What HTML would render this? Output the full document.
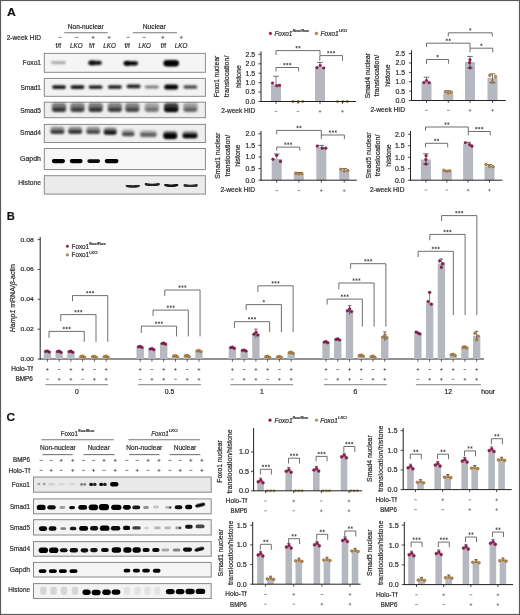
<!DOCTYPE html>
<html><head><meta charset="utf-8"><title>Figure</title>
<style>html,body{margin:0;padding:0;background:#fff;width:520px;height:615px;overflow:hidden}
svg{display:block;font-family:"Liberation Sans",sans-serif;opacity:0.995;filter:blur(0.3px)}svg text{stroke:#2e2e2e;stroke-width:0.22px}</style></head>
<body><svg width="520" height="615" viewBox="0 0 520 615" font-family='"Liberation Sans", sans-serif' fill="#2e2e2e"><defs><filter id="b1" x="-50%" y="-80%" width="200%" height="260%"><feGaussianBlur stdDeviation="0.85"/></filter><filter id="b2" x="-50%" y="-80%" width="200%" height="260%"><feGaussianBlur stdDeviation="1.4"/></filter><filter id="b06" x="-50%" y="-80%" width="200%" height="260%"><feGaussianBlur stdDeviation="0.6"/></filter><filter id="b15" x="-50%" y="-80%" width="200%" height="260%"><feGaussianBlur stdDeviation="1.1"/></filter></defs><rect x="0.5" y="0.5" width="519" height="614" fill="#fff" stroke="#5a5a5a" stroke-width="1.2"/>
<text x="7" y="16.4" font-size="11.2" font-weight="bold" fill="#111" textLength="8.8" lengthAdjust="spacingAndGlyphs">A</text>
<text x="6.8" y="219.8" font-size="11.2" font-weight="bold" fill="#111">B</text>
<text x="6.5" y="420.5" font-size="11.2" font-weight="bold" fill="#111" textLength="8.6" lengthAdjust="spacingAndGlyphs">C</text>
<text x="6.7" y="39.8" font-size="7.2" textLength="34.3" lengthAdjust="spacingAndGlyphs">2-week HID</text>
<text x="85.7" y="28.7" font-size="7" text-anchor="middle" textLength="36" lengthAdjust="spacingAndGlyphs">Non-nuclear</text>
<text x="154.3" y="28.7" font-size="7" text-anchor="middle" textLength="23" lengthAdjust="spacingAndGlyphs">Nuclear</text>
<line x1="64.2" y1="32.8" x2="107.8" y2="32.8" stroke="#777" stroke-width="1.1"/>
<line x1="132.7" y1="32.8" x2="176.9" y2="32.8" stroke="#777" stroke-width="1.1"/>
<line x1="58.4" y1="37.4" x2="61.6" y2="37.4" stroke="#555" stroke-width="0.7"/>
<line x1="75.2" y1="37.4" x2="78.4" y2="37.4" stroke="#555" stroke-width="0.7"/>
<line x1="91.5" y1="37.4" x2="94.7" y2="37.4" stroke="#555" stroke-width="0.7"/>
<line x1="93.1" y1="35.8" x2="93.1" y2="39" stroke="#555" stroke-width="0.7"/>
<line x1="107.5" y1="37.4" x2="110.7" y2="37.4" stroke="#555" stroke-width="0.7"/>
<line x1="109.1" y1="35.8" x2="109.1" y2="39" stroke="#555" stroke-width="0.7"/>
<line x1="126.6" y1="37.4" x2="129.8" y2="37.4" stroke="#555" stroke-width="0.7"/>
<line x1="142.6" y1="37.4" x2="145.8" y2="37.4" stroke="#555" stroke-width="0.7"/>
<line x1="161.2" y1="37.4" x2="164.4" y2="37.4" stroke="#555" stroke-width="0.7"/>
<line x1="162.8" y1="35.8" x2="162.8" y2="39" stroke="#555" stroke-width="0.7"/>
<line x1="179.7" y1="37.4" x2="182.9" y2="37.4" stroke="#555" stroke-width="0.7"/>
<line x1="181.3" y1="35.8" x2="181.3" y2="39" stroke="#555" stroke-width="0.7"/>
<text x="58.3" y="48.1" font-size="7" text-anchor="middle" textLength="5.4" lengthAdjust="spacingAndGlyphs">f/f</text>
<text x="76.3" y="48.1" font-size="7" text-anchor="middle" font-style="italic" textLength="12.6" lengthAdjust="spacingAndGlyphs">LKO</text>
<text x="91.8" y="48.1" font-size="7" text-anchor="middle" textLength="5.4" lengthAdjust="spacingAndGlyphs">f/f</text>
<text x="109.6" y="48.1" font-size="7" text-anchor="middle" font-style="italic" textLength="12.6" lengthAdjust="spacingAndGlyphs">LKO</text>
<text x="127.2" y="48.1" font-size="7" text-anchor="middle" textLength="5.4" lengthAdjust="spacingAndGlyphs">f/f</text>
<text x="144.7" y="48.1" font-size="7" text-anchor="middle" font-style="italic" textLength="12.6" lengthAdjust="spacingAndGlyphs">LKO</text>
<text x="163.4" y="48.1" font-size="7" text-anchor="middle" textLength="5.4" lengthAdjust="spacingAndGlyphs">f/f</text>
<text x="181.1" y="48.1" font-size="7" text-anchor="middle" font-style="italic" textLength="12.6" lengthAdjust="spacingAndGlyphs">LKO</text>
<text x="41" y="65.1" font-size="7.6" text-anchor="end" textLength="18.4" lengthAdjust="spacingAndGlyphs">Foxo1</text>
<rect x="44.3" y="53.4" width="161.1" height="18.9" fill="#f5f5f5" stroke="#8a8a8a" stroke-width="1"/>
<rect x="51" y="61.3" width="15" height="2.8" rx="1.4" fill="#000" fill-opacity="0.33" filter="url(#b1)"/>
<rect x="88.35" y="60.8" width="13.5" height="4.2" rx="2.1" fill="#000" fill-opacity="0.92" filter="url(#b1)"/>
<rect x="89.1" y="60.6" width="6" height="4.6" rx="2.3" fill="#000" fill-opacity="0.5" filter="url(#b1)"/>
<rect x="123.55" y="61.2" width="14.5" height="4.2" rx="2.1" fill="#000" fill-opacity="1" filter="url(#b1)"/>
<rect x="124.55" y="60.9" width="5.5" height="4.8" rx="2.4" fill="#000" fill-opacity="0.6" filter="url(#b1)"/>
<rect x="163.45" y="60.3" width="15.5" height="6" rx="3" fill="#000" fill-opacity="1" filter="url(#b1)"/>
<rect x="164.7" y="60.7" width="13" height="5.2" rx="2.6" fill="#000" fill-opacity="0.6" filter="url(#b1)"/>
<text x="41" y="90.1" font-size="7.6" text-anchor="end" textLength="20.6" lengthAdjust="spacingAndGlyphs">Smad1</text>
<rect x="44.3" y="78.4" width="161.1" height="17.9" fill="#f3f3f3" stroke="#8a8a8a" stroke-width="1"/>
<rect x="52" y="85.3" width="14" height="3.6" rx="1.8" fill="#000" fill-opacity="0.9" filter="url(#b1)"/>
<rect x="70.5" y="85.3" width="14" height="3.6" rx="1.8" fill="#000" fill-opacity="0.92" filter="url(#b1)"/>
<rect x="88.6" y="85.4" width="14" height="3.4" rx="1.7" fill="#000" fill-opacity="0.95" filter="url(#b1)"/>
<rect x="107.9" y="85.3" width="14" height="3.4" rx="1.7" fill="#000" fill-opacity="0.9" filter="url(#b1)"/>
<rect x="126.6" y="84.6" width="14" height="3.6" rx="1.8" fill="#000" fill-opacity="0.88" filter="url(#b1)"/>
<rect x="144.8" y="85.5" width="14" height="3" rx="1.5" fill="#000" fill-opacity="0.5" filter="url(#b1)"/>
<rect x="164.2" y="84.4" width="14" height="5" rx="2.5" fill="#000" fill-opacity="1" filter="url(#b1)"/>
<rect x="183.4" y="85.2" width="14" height="3.6" rx="1.8" fill="#000" fill-opacity="0.7" filter="url(#b1)"/>
<text x="41" y="112.9" font-size="7.6" text-anchor="end" textLength="20.8" lengthAdjust="spacingAndGlyphs">Smad5</text>
<rect x="44.3" y="102.2" width="161.1" height="15.5" fill="#eeeeee" stroke="#8a8a8a" stroke-width="1"/>
<rect x="51.75" y="103.1" width="14.5" height="9" rx="3" fill="#000" fill-opacity="0.5" filter="url(#b15)"/>
<rect x="70.25" y="103.1" width="14.5" height="9" rx="3" fill="#000" fill-opacity="0.47" filter="url(#b15)"/>
<rect x="88.35" y="103.1" width="14.5" height="9" rx="3" fill="#000" fill-opacity="0.5" filter="url(#b15)"/>
<rect x="107.65" y="103.1" width="14.5" height="9" rx="3" fill="#000" fill-opacity="0.47" filter="url(#b15)"/>
<rect x="125.05" y="103.1" width="14.5" height="9" rx="3" fill="#000" fill-opacity="0.45" filter="url(#b15)"/>
<rect x="144.55" y="103.1" width="14.5" height="9" rx="3" fill="#000" fill-opacity="0.32" filter="url(#b15)"/>
<rect x="163.95" y="103.1" width="14.5" height="9" rx="3" fill="#000" fill-opacity="0.75" filter="url(#b15)"/>
<rect x="183.15" y="103.1" width="14.5" height="9" rx="3" fill="#000" fill-opacity="0.35" filter="url(#b15)"/>
<rect x="52.5" y="107.8" width="13" height="3.6" rx="1.8" fill="#000" fill-opacity="0.6" filter="url(#b1)"/>
<rect x="71" y="107.8" width="13" height="3.6" rx="1.8" fill="#000" fill-opacity="0.55" filter="url(#b1)"/>
<rect x="89.1" y="107.8" width="13" height="3.6" rx="1.8" fill="#000" fill-opacity="0.6" filter="url(#b1)"/>
<rect x="108.4" y="107.8" width="13" height="3.6" rx="1.8" fill="#000" fill-opacity="0.55" filter="url(#b1)"/>
<rect x="125.8" y="107.8" width="13" height="3.6" rx="1.8" fill="#000" fill-opacity="0.5" filter="url(#b1)"/>
<rect x="145.3" y="107.8" width="13" height="3.6" rx="1.8" fill="#000" fill-opacity="0.3" filter="url(#b1)"/>
<rect x="164.7" y="107.8" width="13" height="3.6" rx="1.8" fill="#000" fill-opacity="0.9" filter="url(#b1)"/>
<rect x="183.9" y="107.8" width="13" height="3.6" rx="1.8" fill="#000" fill-opacity="0.4" filter="url(#b1)"/>
<text x="41" y="135" font-size="7.6" text-anchor="end" textLength="21" lengthAdjust="spacingAndGlyphs">Smad4</text>
<rect x="44.3" y="124.4" width="161.1" height="18.1" fill="#efefef" stroke="#8a8a8a" stroke-width="1"/>
<rect x="50.4" y="126.7" width="14" height="7" rx="3" fill="#000" fill-opacity="0.42" filter="url(#b15)"/>
<rect x="68.2" y="126.7" width="14" height="7" rx="3" fill="#000" fill-opacity="0.42" filter="url(#b15)"/>
<rect x="86.2" y="126.7" width="14" height="7" rx="3" fill="#000" fill-opacity="0.38" filter="url(#b15)"/>
<rect x="103.7" y="127.5" width="13" height="7" rx="3" fill="#000" fill-opacity="0.45" filter="url(#b15)"/>
<rect x="121.95" y="129.5" width="12.5" height="7" rx="3" fill="#000" fill-opacity="0.3" filter="url(#b15)"/>
<rect x="139.9" y="130.5" width="17" height="7" rx="3" fill="#000" fill-opacity="0.3" filter="url(#b15)"/>
<rect x="163.2" y="131" width="14" height="7" rx="3" fill="#000" fill-opacity="0.5" filter="url(#b15)"/>
<rect x="182.5" y="131.3" width="15" height="7" rx="3" fill="#000" fill-opacity="0.45" filter="url(#b15)"/>
<rect x="50.65" y="130.4" width="13.5" height="3.2" rx="1.6" fill="#000" fill-opacity="0.72" filter="url(#b1)"/>
<rect x="68.45" y="130.2" width="13.5" height="3.2" rx="1.6" fill="#000" fill-opacity="0.72" filter="url(#b1)"/>
<rect x="86.45" y="130.4" width="13.5" height="3.2" rx="1.6" fill="#000" fill-opacity="0.62" filter="url(#b1)"/>
<rect x="103.95" y="130.6" width="12.5" height="4" rx="2" fill="#000" fill-opacity="0.85" filter="url(#b1)"/>
<rect x="122.2" y="132.6" width="12" height="3.2" rx="1.6" fill="#000" fill-opacity="0.62" filter="url(#b1)"/>
<rect x="140.4" y="133.3" width="16" height="3" rx="1.5" fill="#000" fill-opacity="0.5" filter="url(#b1)"/>
<rect x="163.45" y="133.2" width="13.5" height="5.8" rx="2.9" fill="#000" fill-opacity="1" filter="url(#b1)"/>
<rect x="182.75" y="133.8" width="14.5" height="4.2" rx="2.1" fill="#000" fill-opacity="0.95" filter="url(#b1)"/>
<text x="41" y="161.4" font-size="7.6" text-anchor="end" textLength="21" lengthAdjust="spacingAndGlyphs">Gapdh</text>
<rect x="44.3" y="148.5" width="161.1" height="21.1" fill="#f6f6f6" stroke="#8a8a8a" stroke-width="1"/>
<rect x="51.8" y="159" width="13.2" height="4.2" rx="2.1" fill="#000" fill-opacity="1" filter="url(#b06)"/>
<rect x="69.75" y="159" width="12.9" height="4.2" rx="2.1" fill="#000" fill-opacity="1" filter="url(#b06)"/>
<rect x="87.3" y="159.3" width="12.8" height="3.6" rx="1.8" fill="#000" fill-opacity="0.95" filter="url(#b06)"/>
<rect x="104.7" y="159" width="13.8" height="4.2" rx="2.1" fill="#000" fill-opacity="1" filter="url(#b06)"/>
<text x="41" y="185.1" font-size="7.6" text-anchor="end" textLength="22.8" lengthAdjust="spacingAndGlyphs">Histone</text>
<rect x="44.3" y="175.7" width="161.1" height="18.4" fill="#ebebeb" stroke="#8a8a8a" stroke-width="1"/>
<path d="M127,185.7 Q132.8,187.3 138.6,185.7" fill="none" stroke="#000" stroke-opacity="0.85" stroke-width="2.7" stroke-linecap="round" filter="url(#b06)"/>
<path d="M146,184.2 Q152.25,185.8 158.5,184.2" fill="none" stroke="#000" stroke-opacity="0.85" stroke-width="2.7" stroke-linecap="round" filter="url(#b06)"/>
<path d="M165.5,185 Q171.25,186.6 177,185" fill="none" stroke="#000" stroke-opacity="0.9" stroke-width="2.7" stroke-linecap="round" filter="url(#b06)"/>
<path d="M184.8,185.4 Q190.65,187 196.5,185.4" fill="none" stroke="#000" stroke-opacity="0.8" stroke-width="2.7" stroke-linecap="round" filter="url(#b06)"/>
<circle cx="270.4" cy="33.5" r="1.4" fill="#951a52" stroke="#5e0e34" stroke-width="0.3"/>
<text x="274.4" y="35.8" font-size="7.2" font-style="italic" textLength="18" lengthAdjust="spacingAndGlyphs">Foxo1</text>
<text x="292.6" y="32.4" font-size="4.2" font-style="italic" textLength="16.4" lengthAdjust="spacingAndGlyphs">flox/flox</text>
<circle cx="316.4" cy="33.5" r="1.4" fill="#c68a3a" stroke="#5e4014" stroke-width="0.3"/>
<text x="320.6" y="35.8" font-size="7.2" font-style="italic" textLength="18" lengthAdjust="spacingAndGlyphs">Foxo1</text>
<text x="338.7" y="32.4" font-size="4.2" font-style="italic" textLength="8.4" lengthAdjust="spacingAndGlyphs">LKO</text>
<rect x="271" y="84.53" width="10" height="16.97" fill="#b6b8c0"/>
<line x1="276" y1="84.53" x2="276" y2="76.24" stroke="#333" stroke-width="0.6"/>
<line x1="273.2" y1="76.24" x2="278.8" y2="76.24" stroke="#333" stroke-width="0.7"/>
<circle cx="272.5" cy="83.03" r="1.35" fill="#951a52" stroke="#5e0e34" stroke-width="0.4"/>
<circle cx="276.7" cy="85.73" r="1.35" fill="#951a52" stroke="#5e0e34" stroke-width="0.4"/>
<circle cx="279.5" cy="85.33" r="1.35" fill="#951a52" stroke="#5e0e34" stroke-width="0.4"/>
<circle cx="293" cy="101.5" r="1.2" fill="#d6ab62" stroke="#5e4014" stroke-width="0.4"/>
<circle cx="298.2" cy="101.5" r="1.2" fill="#d6ab62" stroke="#5e4014" stroke-width="0.4"/>
<circle cx="302.8" cy="101.5" r="1.2" fill="#d6ab62" stroke="#5e4014" stroke-width="0.4"/>
<rect x="315" y="67" width="10" height="34.5" fill="#b6b8c0"/>
<line x1="320" y1="67" x2="320" y2="62.48" stroke="#333" stroke-width="0.6"/>
<line x1="317.2" y1="62.48" x2="322.8" y2="62.48" stroke="#333" stroke-width="0.7"/>
<circle cx="317" cy="67.7" r="1.35" fill="#951a52" stroke="#5e0e34" stroke-width="0.4"/>
<circle cx="320.2" cy="65.5" r="1.35" fill="#951a52" stroke="#5e0e34" stroke-width="0.4"/>
<circle cx="323.7" cy="68" r="1.35" fill="#951a52" stroke="#5e0e34" stroke-width="0.4"/>
<circle cx="337.5" cy="101.5" r="1.2" fill="#d6ab62" stroke="#5e4014" stroke-width="0.4"/>
<circle cx="342.7" cy="101.5" r="1.2" fill="#d6ab62" stroke="#5e4014" stroke-width="0.4"/>
<circle cx="347.3" cy="101.5" r="1.2" fill="#d6ab62" stroke="#5e4014" stroke-width="0.4"/>
<line x1="261" y1="51.5" x2="261" y2="101.9" stroke="#222" stroke-width="1"/>
<line x1="260.5" y1="101.5" x2="356" y2="101.5" stroke="#222" stroke-width="1"/>
<line x1="258.4" y1="101.5" x2="261" y2="101.5" stroke="#222" stroke-width="0.8"/>
<text x="255.2" y="103.9" font-size="7.2" text-anchor="end" textLength="9.6" lengthAdjust="spacingAndGlyphs">0.0</text>
<line x1="258.4" y1="92.08" x2="261" y2="92.08" stroke="#222" stroke-width="0.8"/>
<text x="255.2" y="94.48" font-size="7.2" text-anchor="end" textLength="9.6" lengthAdjust="spacingAndGlyphs">0.5</text>
<line x1="258.4" y1="82.65" x2="261" y2="82.65" stroke="#222" stroke-width="0.8"/>
<text x="255.2" y="85.05" font-size="7.2" text-anchor="end" textLength="9.6" lengthAdjust="spacingAndGlyphs">1.0</text>
<line x1="258.4" y1="73.22" x2="261" y2="73.22" stroke="#222" stroke-width="0.8"/>
<text x="255.2" y="75.62" font-size="7.2" text-anchor="end" textLength="9.6" lengthAdjust="spacingAndGlyphs">1.5</text>
<line x1="258.4" y1="63.8" x2="261" y2="63.8" stroke="#222" stroke-width="0.8"/>
<text x="255.2" y="66.2" font-size="7.2" text-anchor="end" textLength="9.6" lengthAdjust="spacingAndGlyphs">2.0</text>
<line x1="258.4" y1="54.38" x2="261" y2="54.38" stroke="#222" stroke-width="0.8"/>
<text x="255.2" y="56.77" font-size="7.2" text-anchor="end" textLength="9.6" lengthAdjust="spacingAndGlyphs">2.5</text>
<line x1="276" y1="101.5" x2="276" y2="103.9" stroke="#222" stroke-width="0.8"/>
<line x1="298" y1="101.5" x2="298" y2="103.9" stroke="#222" stroke-width="0.8"/>
<line x1="320" y1="101.5" x2="320" y2="103.9" stroke="#222" stroke-width="0.8"/>
<line x1="342.5" y1="101.5" x2="342.5" y2="103.9" stroke="#222" stroke-width="0.8"/>
<text x="219.2" y="76.5" font-size="7.4" text-anchor="middle" textLength="41.5" lengthAdjust="spacingAndGlyphs" transform="rotate(-90 219.2 76.5)">Foxo1 nuclear</text>
<text x="229" y="76.5" font-size="7.4" text-anchor="middle" textLength="41.7" lengthAdjust="spacingAndGlyphs" transform="rotate(-90 229 76.5)">translocation/</text>
<text x="240.7" y="76.5" font-size="7.4" text-anchor="middle" textLength="22.8" lengthAdjust="spacingAndGlyphs" transform="rotate(-90 240.7 76.5)">histone</text>
<text x="255.2" y="113.1" font-size="7" text-anchor="end" textLength="34" lengthAdjust="spacingAndGlyphs">2-week HID</text>
<line x1="274.65" y1="111.4" x2="277.35" y2="111.4" stroke="#666" stroke-width="0.7"/>
<line x1="296.65" y1="111.4" x2="299.35" y2="111.4" stroke="#666" stroke-width="0.7"/>
<line x1="318.65" y1="111.4" x2="321.35" y2="111.4" stroke="#666" stroke-width="0.7"/>
<line x1="320" y1="110.05" x2="320" y2="112.75" stroke="#666" stroke-width="0.7"/>
<line x1="341.15" y1="111.4" x2="343.85" y2="111.4" stroke="#666" stroke-width="0.7"/>
<line x1="342.5" y1="110.05" x2="342.5" y2="112.75" stroke="#666" stroke-width="0.7"/>
<polyline points="276,55 276,50.6 320,50.6 320,55" fill="none" stroke="#555" stroke-width="0.85"/>
<line x1="296.55" y1="46" x2="296.55" y2="48.4" stroke="#333" stroke-width="0.6"/>
<line x1="295.51" y1="46.6" x2="297.59" y2="47.8" stroke="#333" stroke-width="0.6"/>
<line x1="295.51" y1="47.8" x2="297.59" y2="46.6" stroke="#333" stroke-width="0.6"/>
<line x1="299.45" y1="46" x2="299.45" y2="48.4" stroke="#333" stroke-width="0.6"/>
<line x1="298.41" y1="46.6" x2="300.49" y2="47.8" stroke="#333" stroke-width="0.6"/>
<line x1="298.41" y1="47.8" x2="300.49" y2="46.6" stroke="#333" stroke-width="0.6"/>
<polyline points="276,71.4 276,67.5 298.6,67.5 298.6,71.4" fill="none" stroke="#555" stroke-width="0.85"/>
<line x1="284.4" y1="62.9" x2="284.4" y2="65.3" stroke="#333" stroke-width="0.6"/>
<line x1="283.36" y1="63.5" x2="285.44" y2="64.7" stroke="#333" stroke-width="0.6"/>
<line x1="283.36" y1="64.7" x2="285.44" y2="63.5" stroke="#333" stroke-width="0.6"/>
<line x1="287.3" y1="62.9" x2="287.3" y2="65.3" stroke="#333" stroke-width="0.6"/>
<line x1="286.26" y1="63.5" x2="288.34" y2="64.7" stroke="#333" stroke-width="0.6"/>
<line x1="286.26" y1="64.7" x2="288.34" y2="63.5" stroke="#333" stroke-width="0.6"/>
<line x1="290.2" y1="62.9" x2="290.2" y2="65.3" stroke="#333" stroke-width="0.6"/>
<line x1="289.16" y1="63.5" x2="291.24" y2="64.7" stroke="#333" stroke-width="0.6"/>
<line x1="289.16" y1="64.7" x2="291.24" y2="63.5" stroke="#333" stroke-width="0.6"/>
<polyline points="319.8,60.8 319.8,55.6 342.5,55.6 342.5,60.8" fill="none" stroke="#555" stroke-width="0.85"/>
<line x1="328.25" y1="51" x2="328.25" y2="53.4" stroke="#333" stroke-width="0.6"/>
<line x1="327.21" y1="51.6" x2="329.29" y2="52.8" stroke="#333" stroke-width="0.6"/>
<line x1="327.21" y1="52.8" x2="329.29" y2="51.6" stroke="#333" stroke-width="0.6"/>
<line x1="331.15" y1="51" x2="331.15" y2="53.4" stroke="#333" stroke-width="0.6"/>
<line x1="330.11" y1="51.6" x2="332.19" y2="52.8" stroke="#333" stroke-width="0.6"/>
<line x1="330.11" y1="52.8" x2="332.19" y2="51.6" stroke="#333" stroke-width="0.6"/>
<line x1="334.05" y1="51" x2="334.05" y2="53.4" stroke="#333" stroke-width="0.6"/>
<line x1="333.01" y1="51.6" x2="335.09" y2="52.8" stroke="#333" stroke-width="0.6"/>
<line x1="333.01" y1="52.8" x2="335.09" y2="51.6" stroke="#333" stroke-width="0.6"/>
<rect x="421.5" y="82.3" width="10" height="18.2" fill="#b6b8c0"/>
<line x1="426.5" y1="82.3" x2="426.5" y2="77.24" stroke="#333" stroke-width="0.6"/>
<line x1="423.7" y1="77.24" x2="429.3" y2="77.24" stroke="#333" stroke-width="0.7"/>
<circle cx="423.9" cy="82.5" r="1.35" fill="#951a52" stroke="#5e0e34" stroke-width="0.4"/>
<circle cx="429.1" cy="82.7" r="1.35" fill="#951a52" stroke="#5e0e34" stroke-width="0.4"/>
<circle cx="426.5" cy="80.5" r="1.35" fill="#951a52" stroke="#5e0e34" stroke-width="0.4"/>
<rect x="443.3" y="93.37" width="10" height="7.13" fill="#b6b8c0"/>
<line x1="448.3" y1="93.37" x2="448.3" y2="90.74" stroke="#333" stroke-width="0.6"/>
<line x1="445.5" y1="90.74" x2="451.1" y2="90.74" stroke="#333" stroke-width="0.7"/>
<circle cx="445.3" cy="91.87" r="1.35" fill="#c68a3a" stroke="#5e4014" stroke-width="0.4"/>
<circle cx="448.3" cy="92.87" r="1.35" fill="#c68a3a" stroke="#5e4014" stroke-width="0.4"/>
<circle cx="451.3" cy="92.37" r="1.35" fill="#c68a3a" stroke="#5e4014" stroke-width="0.4"/>
<rect x="465" y="62.04" width="10" height="38.46" fill="#b6b8c0"/>
<line x1="470" y1="62.04" x2="470" y2="56.41" stroke="#333" stroke-width="0.6"/>
<line x1="467.2" y1="56.41" x2="472.8" y2="56.41" stroke="#333" stroke-width="0.7"/>
<line x1="470" y1="62.04" x2="470" y2="68.04" stroke="#333" stroke-width="0.6"/>
<line x1="467.2" y1="68.04" x2="472.8" y2="68.04" stroke="#333" stroke-width="0.7"/>
<circle cx="470" cy="59.84" r="1.35" fill="#951a52" stroke="#5e0e34" stroke-width="0.4"/>
<circle cx="469.6" cy="62.64" r="1.35" fill="#951a52" stroke="#5e0e34" stroke-width="0.4"/>
<circle cx="470" cy="67.84" r="1.35" fill="#951a52" stroke="#5e0e34" stroke-width="0.4"/>
<rect x="487.5" y="77.99" width="10" height="22.51" fill="#b6b8c0"/>
<line x1="492.5" y1="77.99" x2="492.5" y2="73.86" stroke="#333" stroke-width="0.6"/>
<line x1="489.7" y1="73.86" x2="495.3" y2="73.86" stroke="#333" stroke-width="0.7"/>
<line x1="492.5" y1="77.99" x2="492.5" y2="82.59" stroke="#333" stroke-width="0.6"/>
<line x1="489.7" y1="82.59" x2="495.3" y2="82.59" stroke="#333" stroke-width="0.7"/>
<circle cx="489.9" cy="75.39" r="1.35" fill="#c68a3a" stroke="#5e4014" stroke-width="0.4"/>
<circle cx="495.5" cy="76.59" r="1.35" fill="#c68a3a" stroke="#5e4014" stroke-width="0.4"/>
<circle cx="492.5" cy="82.39" r="1.35" fill="#c68a3a" stroke="#5e4014" stroke-width="0.4"/>
<line x1="411.5" y1="50.4" x2="411.5" y2="100.9" stroke="#222" stroke-width="1"/>
<line x1="411" y1="100.5" x2="505.8" y2="100.5" stroke="#222" stroke-width="1"/>
<line x1="408.9" y1="100.5" x2="411.5" y2="100.5" stroke="#222" stroke-width="0.8"/>
<text x="405" y="102.9" font-size="7.2" text-anchor="end" textLength="9.6" lengthAdjust="spacingAndGlyphs">0.0</text>
<line x1="408.9" y1="91.12" x2="411.5" y2="91.12" stroke="#222" stroke-width="0.8"/>
<text x="405" y="93.52" font-size="7.2" text-anchor="end" textLength="9.6" lengthAdjust="spacingAndGlyphs">0.5</text>
<line x1="408.9" y1="81.74" x2="411.5" y2="81.74" stroke="#222" stroke-width="0.8"/>
<text x="405" y="84.14" font-size="7.2" text-anchor="end" textLength="9.6" lengthAdjust="spacingAndGlyphs">1.0</text>
<line x1="408.9" y1="72.36" x2="411.5" y2="72.36" stroke="#222" stroke-width="0.8"/>
<text x="405" y="74.76" font-size="7.2" text-anchor="end" textLength="9.6" lengthAdjust="spacingAndGlyphs">1.5</text>
<line x1="408.9" y1="62.98" x2="411.5" y2="62.98" stroke="#222" stroke-width="0.8"/>
<text x="405" y="65.38" font-size="7.2" text-anchor="end" textLength="9.6" lengthAdjust="spacingAndGlyphs">2.0</text>
<line x1="408.9" y1="53.6" x2="411.5" y2="53.6" stroke="#222" stroke-width="0.8"/>
<text x="405" y="56" font-size="7.2" text-anchor="end" textLength="9.6" lengthAdjust="spacingAndGlyphs">2.5</text>
<line x1="426.5" y1="100.5" x2="426.5" y2="102.9" stroke="#222" stroke-width="0.8"/>
<line x1="448.3" y1="100.5" x2="448.3" y2="102.9" stroke="#222" stroke-width="0.8"/>
<line x1="470" y1="100.5" x2="470" y2="102.9" stroke="#222" stroke-width="0.8"/>
<line x1="492.5" y1="100.5" x2="492.5" y2="102.9" stroke="#222" stroke-width="0.8"/>
<text x="369.8" y="75.6" font-size="7.4" text-anchor="middle" textLength="45.3" lengthAdjust="spacingAndGlyphs" transform="rotate(-90 369.8 75.6)">Smad4 nuclear</text>
<text x="379.3" y="75.6" font-size="7.4" text-anchor="middle" textLength="41.7" lengthAdjust="spacingAndGlyphs" transform="rotate(-90 379.3 75.6)">translocation/</text>
<text x="390.1" y="75.6" font-size="7.4" text-anchor="middle" textLength="22.3" lengthAdjust="spacingAndGlyphs" transform="rotate(-90 390.1 75.6)">histone</text>
<text x="405" y="112.1" font-size="7" text-anchor="end" textLength="34.6" lengthAdjust="spacingAndGlyphs">2-week HID</text>
<line x1="425.15" y1="110.4" x2="427.85" y2="110.4" stroke="#666" stroke-width="0.7"/>
<line x1="446.95" y1="110.4" x2="449.65" y2="110.4" stroke="#666" stroke-width="0.7"/>
<line x1="468.65" y1="110.4" x2="471.35" y2="110.4" stroke="#666" stroke-width="0.7"/>
<line x1="470" y1="109.05" x2="470" y2="111.75" stroke="#666" stroke-width="0.7"/>
<line x1="491.15" y1="110.4" x2="493.85" y2="110.4" stroke="#666" stroke-width="0.7"/>
<line x1="492.5" y1="109.05" x2="492.5" y2="111.75" stroke="#666" stroke-width="0.7"/>
<polyline points="426.5,63.8 426.5,59.5 448.6,59.5 448.6,63.8" fill="none" stroke="#555" stroke-width="0.85"/>
<line x1="437.55" y1="54.9" x2="437.55" y2="57.3" stroke="#333" stroke-width="0.6"/>
<line x1="436.51" y1="55.5" x2="438.59" y2="56.7" stroke="#333" stroke-width="0.6"/>
<line x1="436.51" y1="56.7" x2="438.59" y2="55.5" stroke="#333" stroke-width="0.6"/>
<polyline points="426.5,47 426.5,43.2 470,43.2 470,48.2" fill="none" stroke="#555" stroke-width="0.85"/>
<line x1="446.8" y1="38.6" x2="446.8" y2="41" stroke="#333" stroke-width="0.6"/>
<line x1="445.76" y1="39.2" x2="447.84" y2="40.4" stroke="#333" stroke-width="0.6"/>
<line x1="445.76" y1="40.4" x2="447.84" y2="39.2" stroke="#333" stroke-width="0.6"/>
<line x1="449.7" y1="38.6" x2="449.7" y2="41" stroke="#333" stroke-width="0.6"/>
<line x1="448.66" y1="39.2" x2="450.74" y2="40.4" stroke="#333" stroke-width="0.6"/>
<line x1="448.66" y1="40.4" x2="450.74" y2="39.2" stroke="#333" stroke-width="0.6"/>
<polyline points="448.3,36.4 448.3,32.8 492.2,32.8 492.2,36.4" fill="none" stroke="#555" stroke-width="0.85"/>
<line x1="470.25" y1="28.2" x2="470.25" y2="30.6" stroke="#333" stroke-width="0.6"/>
<line x1="469.21" y1="28.8" x2="471.29" y2="30" stroke="#333" stroke-width="0.6"/>
<line x1="469.21" y1="30" x2="471.29" y2="28.8" stroke="#333" stroke-width="0.6"/>
<polyline points="470,52.3 470,48.2 492.7,48.2 492.7,52.3" fill="none" stroke="#555" stroke-width="0.85"/>
<line x1="481.35" y1="43.6" x2="481.35" y2="46" stroke="#333" stroke-width="0.6"/>
<line x1="480.31" y1="44.2" x2="482.39" y2="45.4" stroke="#333" stroke-width="0.6"/>
<line x1="480.31" y1="45.4" x2="482.39" y2="44.2" stroke="#333" stroke-width="0.6"/>
<rect x="271.7" y="158.86" width="10" height="21.34" fill="#b6b8c0"/>
<line x1="276.7" y1="158.86" x2="276.7" y2="153.98" stroke="#333" stroke-width="0.6"/>
<line x1="273.9" y1="153.98" x2="279.5" y2="153.98" stroke="#333" stroke-width="0.7"/>
<circle cx="273" cy="159.26" r="1.35" fill="#951a52" stroke="#5e0e34" stroke-width="0.4"/>
<circle cx="280.5" cy="161.46" r="1.35" fill="#951a52" stroke="#5e0e34" stroke-width="0.4"/>
<circle cx="276.7" cy="155.46" r="1.35" fill="#951a52" stroke="#5e0e34" stroke-width="0.4"/>
<rect x="293.8" y="173.7" width="10" height="6.5" fill="#b6b8c0"/>
<line x1="298.8" y1="173.7" x2="298.8" y2="172.54" stroke="#333" stroke-width="0.6"/>
<line x1="296" y1="172.54" x2="301.6" y2="172.54" stroke="#333" stroke-width="0.7"/>
<circle cx="295.8" cy="173.2" r="1.35" fill="#c68a3a" stroke="#5e4014" stroke-width="0.4"/>
<circle cx="298.8" cy="173.7" r="1.35" fill="#c68a3a" stroke="#5e4014" stroke-width="0.4"/>
<circle cx="301.8" cy="173.4" r="1.35" fill="#c68a3a" stroke="#5e4014" stroke-width="0.4"/>
<rect x="316.3" y="147.02" width="10" height="33.18" fill="#b6b8c0"/>
<line x1="321.3" y1="147.02" x2="321.3" y2="145.4" stroke="#333" stroke-width="0.6"/>
<line x1="318.5" y1="145.4" x2="324.1" y2="145.4" stroke="#333" stroke-width="0.7"/>
<circle cx="317.3" cy="146.02" r="1.35" fill="#951a52" stroke="#5e0e34" stroke-width="0.4"/>
<circle cx="322.3" cy="148.22" r="1.35" fill="#951a52" stroke="#5e0e34" stroke-width="0.4"/>
<circle cx="325.8" cy="148.22" r="1.35" fill="#951a52" stroke="#5e0e34" stroke-width="0.4"/>
<rect x="339.2" y="170.92" width="10" height="9.28" fill="#b6b8c0"/>
<line x1="344.2" y1="170.92" x2="344.2" y2="168.6" stroke="#333" stroke-width="0.6"/>
<line x1="341.4" y1="168.6" x2="347" y2="168.6" stroke="#333" stroke-width="0.7"/>
<circle cx="340.7" cy="169.42" r="1.35" fill="#c68a3a" stroke="#5e4014" stroke-width="0.4"/>
<circle cx="344.2" cy="170.92" r="1.35" fill="#c68a3a" stroke="#5e4014" stroke-width="0.4"/>
<circle cx="347.7" cy="170.42" r="1.35" fill="#c68a3a" stroke="#5e4014" stroke-width="0.4"/>
<line x1="261" y1="131" x2="261" y2="180.6" stroke="#222" stroke-width="1"/>
<line x1="260.5" y1="180.2" x2="356.8" y2="180.2" stroke="#222" stroke-width="1"/>
<line x1="258.4" y1="180.2" x2="261" y2="180.2" stroke="#222" stroke-width="0.8"/>
<text x="255" y="182.6" font-size="7.2" text-anchor="end" textLength="9.6" lengthAdjust="spacingAndGlyphs">0.0</text>
<line x1="258.4" y1="168.6" x2="261" y2="168.6" stroke="#222" stroke-width="0.8"/>
<text x="255" y="171" font-size="7.2" text-anchor="end" textLength="9.6" lengthAdjust="spacingAndGlyphs">0.5</text>
<line x1="258.4" y1="157" x2="261" y2="157" stroke="#222" stroke-width="0.8"/>
<text x="255" y="159.4" font-size="7.2" text-anchor="end" textLength="9.6" lengthAdjust="spacingAndGlyphs">1.0</text>
<line x1="258.4" y1="145.4" x2="261" y2="145.4" stroke="#222" stroke-width="0.8"/>
<text x="255" y="147.8" font-size="7.2" text-anchor="end" textLength="9.6" lengthAdjust="spacingAndGlyphs">1.5</text>
<line x1="258.4" y1="133.8" x2="261" y2="133.8" stroke="#222" stroke-width="0.8"/>
<text x="255" y="136.2" font-size="7.2" text-anchor="end" textLength="9.6" lengthAdjust="spacingAndGlyphs">2.0</text>
<line x1="276.7" y1="180.2" x2="276.7" y2="182.6" stroke="#222" stroke-width="0.8"/>
<line x1="298.8" y1="180.2" x2="298.8" y2="182.6" stroke="#222" stroke-width="0.8"/>
<line x1="321.3" y1="180.2" x2="321.3" y2="182.6" stroke="#222" stroke-width="0.8"/>
<line x1="344.2" y1="180.2" x2="344.2" y2="182.6" stroke="#222" stroke-width="0.8"/>
<text x="220.5" y="155.7" font-size="7.4" text-anchor="middle" textLength="46" lengthAdjust="spacingAndGlyphs" transform="rotate(-90 220.5 155.7)">Smad1 nuclear</text>
<text x="229.8" y="155.7" font-size="7.4" text-anchor="middle" textLength="41.7" lengthAdjust="spacingAndGlyphs" transform="rotate(-90 229.8 155.7)">translocation/</text>
<text x="240.1" y="155.7" font-size="7.4" text-anchor="middle" textLength="22.3" lengthAdjust="spacingAndGlyphs" transform="rotate(-90 240.1 155.7)">histone</text>
<text x="255" y="192.3" font-size="7" text-anchor="end" textLength="34.6" lengthAdjust="spacingAndGlyphs">2-week HID</text>
<line x1="275.35" y1="190.6" x2="278.05" y2="190.6" stroke="#666" stroke-width="0.7"/>
<line x1="297.45" y1="190.6" x2="300.15" y2="190.6" stroke="#666" stroke-width="0.7"/>
<line x1="319.95" y1="190.6" x2="322.65" y2="190.6" stroke="#666" stroke-width="0.7"/>
<line x1="321.3" y1="189.25" x2="321.3" y2="191.95" stroke="#666" stroke-width="0.7"/>
<line x1="342.85" y1="190.6" x2="345.55" y2="190.6" stroke="#666" stroke-width="0.7"/>
<line x1="344.2" y1="189.25" x2="344.2" y2="191.95" stroke="#666" stroke-width="0.7"/>
<polyline points="276.7,134.4 276.7,130.4 321.3,130.4 321.3,135" fill="none" stroke="#555" stroke-width="0.85"/>
<line x1="297.55" y1="125.8" x2="297.55" y2="128.2" stroke="#333" stroke-width="0.6"/>
<line x1="296.51" y1="126.4" x2="298.59" y2="127.6" stroke="#333" stroke-width="0.6"/>
<line x1="296.51" y1="127.6" x2="298.59" y2="126.4" stroke="#333" stroke-width="0.6"/>
<line x1="300.45" y1="125.8" x2="300.45" y2="128.2" stroke="#333" stroke-width="0.6"/>
<line x1="299.41" y1="126.4" x2="301.49" y2="127.6" stroke="#333" stroke-width="0.6"/>
<line x1="299.41" y1="127.6" x2="301.49" y2="126.4" stroke="#333" stroke-width="0.6"/>
<polyline points="276.7,150.6 276.7,147.1 299.8,147.1 299.8,150.6" fill="none" stroke="#555" stroke-width="0.85"/>
<line x1="285.35" y1="142.5" x2="285.35" y2="144.9" stroke="#333" stroke-width="0.6"/>
<line x1="284.31" y1="143.1" x2="286.39" y2="144.3" stroke="#333" stroke-width="0.6"/>
<line x1="284.31" y1="144.3" x2="286.39" y2="143.1" stroke="#333" stroke-width="0.6"/>
<line x1="288.25" y1="142.5" x2="288.25" y2="144.9" stroke="#333" stroke-width="0.6"/>
<line x1="287.21" y1="143.1" x2="289.29" y2="144.3" stroke="#333" stroke-width="0.6"/>
<line x1="287.21" y1="144.3" x2="289.29" y2="143.1" stroke="#333" stroke-width="0.6"/>
<line x1="291.15" y1="142.5" x2="291.15" y2="144.9" stroke="#333" stroke-width="0.6"/>
<line x1="290.11" y1="143.1" x2="292.19" y2="144.3" stroke="#333" stroke-width="0.6"/>
<line x1="290.11" y1="144.3" x2="292.19" y2="143.1" stroke="#333" stroke-width="0.6"/>
<polyline points="321.3,139 321.3,135 344.4,135 344.4,139" fill="none" stroke="#555" stroke-width="0.85"/>
<line x1="329.95" y1="130.4" x2="329.95" y2="132.8" stroke="#333" stroke-width="0.6"/>
<line x1="328.91" y1="131" x2="330.99" y2="132.2" stroke="#333" stroke-width="0.6"/>
<line x1="328.91" y1="132.2" x2="330.99" y2="131" stroke="#333" stroke-width="0.6"/>
<line x1="332.85" y1="130.4" x2="332.85" y2="132.8" stroke="#333" stroke-width="0.6"/>
<line x1="331.81" y1="131" x2="333.89" y2="132.2" stroke="#333" stroke-width="0.6"/>
<line x1="331.81" y1="132.2" x2="333.89" y2="131" stroke="#333" stroke-width="0.6"/>
<line x1="335.75" y1="130.4" x2="335.75" y2="132.8" stroke="#333" stroke-width="0.6"/>
<line x1="334.71" y1="131" x2="336.79" y2="132.2" stroke="#333" stroke-width="0.6"/>
<line x1="334.71" y1="132.2" x2="336.79" y2="131" stroke="#333" stroke-width="0.6"/>
<rect x="420.9" y="159.54" width="10" height="20.66" fill="#b6b8c0"/>
<line x1="425.9" y1="159.54" x2="425.9" y2="153.81" stroke="#333" stroke-width="0.6"/>
<line x1="423.1" y1="153.81" x2="428.7" y2="153.81" stroke="#333" stroke-width="0.7"/>
<line x1="425.9" y1="159.54" x2="425.9" y2="164.14" stroke="#333" stroke-width="0.6"/>
<line x1="423.1" y1="164.14" x2="428.7" y2="164.14" stroke="#333" stroke-width="0.7"/>
<circle cx="425.9" cy="159.54" r="1.35" fill="#951a52" stroke="#5e0e34" stroke-width="0.4"/>
<circle cx="425.9" cy="164.04" r="1.35" fill="#951a52" stroke="#5e0e34" stroke-width="0.4"/>
<circle cx="426.1" cy="155.74" r="1.35" fill="#951a52" stroke="#5e0e34" stroke-width="0.4"/>
<rect x="441.8" y="171.25" width="10" height="8.95" fill="#b6b8c0"/>
<line x1="446.8" y1="171.25" x2="446.8" y2="170.56" stroke="#333" stroke-width="0.6"/>
<line x1="444" y1="170.56" x2="449.6" y2="170.56" stroke="#333" stroke-width="0.7"/>
<circle cx="443.8" cy="170.25" r="1.35" fill="#c68a3a" stroke="#5e4014" stroke-width="0.4"/>
<circle cx="446.8" cy="171.25" r="1.35" fill="#c68a3a" stroke="#5e4014" stroke-width="0.4"/>
<circle cx="449.8" cy="170.75" r="1.35" fill="#c68a3a" stroke="#5e4014" stroke-width="0.4"/>
<rect x="463.1" y="144.4" width="10" height="35.8" fill="#b6b8c0"/>
<line x1="468.1" y1="144.4" x2="468.1" y2="142.33" stroke="#333" stroke-width="0.6"/>
<line x1="465.3" y1="142.33" x2="470.9" y2="142.33" stroke="#333" stroke-width="0.7"/>
<circle cx="465.3" cy="142.8" r="1.35" fill="#951a52" stroke="#5e0e34" stroke-width="0.4"/>
<circle cx="469.6" cy="144.6" r="1.35" fill="#951a52" stroke="#5e0e34" stroke-width="0.4"/>
<circle cx="471.9" cy="146.2" r="1.35" fill="#951a52" stroke="#5e0e34" stroke-width="0.4"/>
<rect x="484.5" y="166.2" width="10" height="14" fill="#b6b8c0"/>
<line x1="489.5" y1="166.2" x2="489.5" y2="164.59" stroke="#333" stroke-width="0.6"/>
<line x1="486.7" y1="164.59" x2="492.3" y2="164.59" stroke="#333" stroke-width="0.7"/>
<circle cx="486" cy="164.4" r="1.35" fill="#c68a3a" stroke="#5e4014" stroke-width="0.4"/>
<circle cx="489.5" cy="166.2" r="1.35" fill="#c68a3a" stroke="#5e4014" stroke-width="0.4"/>
<circle cx="493" cy="166.7" r="1.35" fill="#c68a3a" stroke="#5e4014" stroke-width="0.4"/>
<line x1="410.5" y1="130.9" x2="410.5" y2="180.6" stroke="#222" stroke-width="1"/>
<line x1="410" y1="180.2" x2="502.4" y2="180.2" stroke="#222" stroke-width="1"/>
<line x1="407.9" y1="180.2" x2="410.5" y2="180.2" stroke="#222" stroke-width="0.8"/>
<text x="404.5" y="182.6" font-size="7.2" text-anchor="end" textLength="9.6" lengthAdjust="spacingAndGlyphs">0.0</text>
<line x1="407.9" y1="168.72" x2="410.5" y2="168.72" stroke="#222" stroke-width="0.8"/>
<text x="404.5" y="171.12" font-size="7.2" text-anchor="end" textLength="9.6" lengthAdjust="spacingAndGlyphs">0.5</text>
<line x1="407.9" y1="157.25" x2="410.5" y2="157.25" stroke="#222" stroke-width="0.8"/>
<text x="404.5" y="159.65" font-size="7.2" text-anchor="end" textLength="9.6" lengthAdjust="spacingAndGlyphs">1.0</text>
<line x1="407.9" y1="145.77" x2="410.5" y2="145.77" stroke="#222" stroke-width="0.8"/>
<text x="404.5" y="148.17" font-size="7.2" text-anchor="end" textLength="9.6" lengthAdjust="spacingAndGlyphs">1.5</text>
<line x1="407.9" y1="134.3" x2="410.5" y2="134.3" stroke="#222" stroke-width="0.8"/>
<text x="404.5" y="136.7" font-size="7.2" text-anchor="end" textLength="9.6" lengthAdjust="spacingAndGlyphs">2.0</text>
<line x1="425.9" y1="180.2" x2="425.9" y2="182.6" stroke="#222" stroke-width="0.8"/>
<line x1="446.8" y1="180.2" x2="446.8" y2="182.6" stroke="#222" stroke-width="0.8"/>
<line x1="468.1" y1="180.2" x2="468.1" y2="182.6" stroke="#222" stroke-width="0.8"/>
<line x1="489.5" y1="180.2" x2="489.5" y2="182.6" stroke="#222" stroke-width="0.8"/>
<text x="370.6" y="155.5" font-size="7.4" text-anchor="middle" textLength="46" lengthAdjust="spacingAndGlyphs" transform="rotate(-90 370.6 155.5)">Smad5 nuclear</text>
<text x="379.8" y="155.5" font-size="7.4" text-anchor="middle" textLength="41.7" lengthAdjust="spacingAndGlyphs" transform="rotate(-90 379.8 155.5)">translocation/</text>
<text x="390.6" y="155.5" font-size="7.4" text-anchor="middle" textLength="22.3" lengthAdjust="spacingAndGlyphs" transform="rotate(-90 390.6 155.5)">histone</text>
<text x="404.5" y="191.8" font-size="7" text-anchor="end" textLength="34.6" lengthAdjust="spacingAndGlyphs">2-week HID</text>
<line x1="424.55" y1="190.1" x2="427.25" y2="190.1" stroke="#666" stroke-width="0.7"/>
<line x1="445.45" y1="190.1" x2="448.15" y2="190.1" stroke="#666" stroke-width="0.7"/>
<line x1="466.75" y1="190.1" x2="469.45" y2="190.1" stroke="#666" stroke-width="0.7"/>
<line x1="468.1" y1="188.75" x2="468.1" y2="191.45" stroke="#666" stroke-width="0.7"/>
<line x1="488.15" y1="190.1" x2="490.85" y2="190.1" stroke="#666" stroke-width="0.7"/>
<line x1="489.5" y1="188.75" x2="489.5" y2="191.45" stroke="#666" stroke-width="0.7"/>
<polyline points="425.5,130.6 425.5,127 468.3,127 468.3,131.5" fill="none" stroke="#555" stroke-width="0.85"/>
<line x1="445.45" y1="122.4" x2="445.45" y2="124.8" stroke="#333" stroke-width="0.6"/>
<line x1="444.41" y1="123" x2="446.49" y2="124.2" stroke="#333" stroke-width="0.6"/>
<line x1="444.41" y1="124.2" x2="446.49" y2="123" stroke="#333" stroke-width="0.6"/>
<line x1="448.35" y1="122.4" x2="448.35" y2="124.8" stroke="#333" stroke-width="0.6"/>
<line x1="447.31" y1="123" x2="449.39" y2="124.2" stroke="#333" stroke-width="0.6"/>
<line x1="447.31" y1="124.2" x2="449.39" y2="123" stroke="#333" stroke-width="0.6"/>
<polyline points="425.5,147.3 425.5,143.3 447.7,143.3 447.7,147.3" fill="none" stroke="#555" stroke-width="0.85"/>
<line x1="435.15" y1="138.7" x2="435.15" y2="141.1" stroke="#333" stroke-width="0.6"/>
<line x1="434.11" y1="139.3" x2="436.19" y2="140.5" stroke="#333" stroke-width="0.6"/>
<line x1="434.11" y1="140.5" x2="436.19" y2="139.3" stroke="#333" stroke-width="0.6"/>
<line x1="438.05" y1="138.7" x2="438.05" y2="141.1" stroke="#333" stroke-width="0.6"/>
<line x1="437.01" y1="139.3" x2="439.09" y2="140.5" stroke="#333" stroke-width="0.6"/>
<line x1="437.01" y1="140.5" x2="439.09" y2="139.3" stroke="#333" stroke-width="0.6"/>
<polyline points="468.3,135.3 468.3,131.5 490.2,131.5 490.2,135.3" fill="none" stroke="#555" stroke-width="0.85"/>
<line x1="476.35" y1="126.9" x2="476.35" y2="129.3" stroke="#333" stroke-width="0.6"/>
<line x1="475.31" y1="127.5" x2="477.39" y2="128.7" stroke="#333" stroke-width="0.6"/>
<line x1="475.31" y1="128.7" x2="477.39" y2="127.5" stroke="#333" stroke-width="0.6"/>
<line x1="479.25" y1="126.9" x2="479.25" y2="129.3" stroke="#333" stroke-width="0.6"/>
<line x1="478.21" y1="127.5" x2="480.29" y2="128.7" stroke="#333" stroke-width="0.6"/>
<line x1="478.21" y1="128.7" x2="480.29" y2="127.5" stroke="#333" stroke-width="0.6"/>
<line x1="482.15" y1="126.9" x2="482.15" y2="129.3" stroke="#333" stroke-width="0.6"/>
<line x1="481.11" y1="127.5" x2="483.19" y2="128.7" stroke="#333" stroke-width="0.6"/>
<line x1="481.11" y1="128.7" x2="483.19" y2="127.5" stroke="#333" stroke-width="0.6"/>
<line x1="40.2" y1="237" x2="40.2" y2="359.4" stroke="#222" stroke-width="1"/>
<line x1="39.7" y1="359" x2="484" y2="359" stroke="#222" stroke-width="1"/>
<line x1="37.6" y1="359" x2="40.2" y2="359" stroke="#222" stroke-width="0.8"/>
<text x="33.8" y="361" font-size="6" text-anchor="end" textLength="13.2" lengthAdjust="spacingAndGlyphs">0.00</text>
<line x1="37.6" y1="329.15" x2="40.2" y2="329.15" stroke="#222" stroke-width="0.8"/>
<text x="33.8" y="331.15" font-size="6" text-anchor="end" textLength="13.2" lengthAdjust="spacingAndGlyphs">0.02</text>
<line x1="37.6" y1="299.3" x2="40.2" y2="299.3" stroke="#222" stroke-width="0.8"/>
<text x="33.8" y="301.3" font-size="6" text-anchor="end" textLength="13.2" lengthAdjust="spacingAndGlyphs">0.04</text>
<line x1="37.6" y1="269.45" x2="40.2" y2="269.45" stroke="#222" stroke-width="0.8"/>
<text x="33.8" y="271.45" font-size="6" text-anchor="end" textLength="13.2" lengthAdjust="spacingAndGlyphs">0.06</text>
<line x1="37.6" y1="239.6" x2="40.2" y2="239.6" stroke="#222" stroke-width="0.8"/>
<text x="33.8" y="241.6" font-size="6" text-anchor="end" textLength="13.2" lengthAdjust="spacingAndGlyphs">0.08</text>
<g transform="translate(14.9 298.2) rotate(-90) scale(0.873 1)"><text x="0" y="0" font-size="8" text-anchor="middle"><tspan font-style="italic">Hamp1</tspan> mRNA/<tspan font-style="italic">&#946;</tspan>-actin</text></g>
<circle cx="67.4" cy="246.3" r="1.3" fill="#951a52" stroke="#5e0e34" stroke-width="0.3"/>
<text x="71.6" y="248.7" font-size="6.8" textLength="17.5" lengthAdjust="spacingAndGlyphs">Foxo1</text>
<text x="89.2" y="245.2" font-size="4" textLength="16.4" lengthAdjust="spacingAndGlyphs">flox/flox</text>
<circle cx="67.4" cy="254.9" r="1.3" fill="#c68a3a" stroke="#5e4014" stroke-width="0.3"/>
<text x="71.6" y="257.4" font-size="6.8" textLength="17.5" lengthAdjust="spacingAndGlyphs">Foxo1</text>
<text x="89.2" y="253.8" font-size="4" textLength="8.4" lengthAdjust="spacingAndGlyphs">LKO</text>
<text x="32.8" y="370.9" font-size="6.5" text-anchor="end" textLength="21.6" lengthAdjust="spacingAndGlyphs">Holo-Tf</text>
<text x="32.8" y="381.4" font-size="6.5" text-anchor="end" textLength="17.4" lengthAdjust="spacingAndGlyphs">BMP6</text>
<rect x="43.7" y="351.2" width="7.4" height="7.8" fill="#b6b8c0"/>
<circle cx="45.7" cy="351.4" r="1.35" fill="#951a52" stroke="#5e0e34" stroke-width="0.4"/>
<circle cx="47.5" cy="351" r="1.35" fill="#951a52" stroke="#5e0e34" stroke-width="0.4"/>
<circle cx="49.2" cy="352.1" r="1.35" fill="#951a52" stroke="#5e0e34" stroke-width="0.4"/>
<line x1="47.4" y1="359" x2="47.4" y2="361.8" stroke="#222" stroke-width="0.7"/>
<rect x="55.45" y="351.4" width="7.4" height="7.6" fill="#b6b8c0"/>
<circle cx="57.45" cy="351.6" r="1.35" fill="#951a52" stroke="#5e0e34" stroke-width="0.4"/>
<circle cx="59.25" cy="351.2" r="1.35" fill="#951a52" stroke="#5e0e34" stroke-width="0.4"/>
<circle cx="60.95" cy="352.3" r="1.35" fill="#951a52" stroke="#5e0e34" stroke-width="0.4"/>
<line x1="59.15" y1="359" x2="59.15" y2="361.8" stroke="#222" stroke-width="0.7"/>
<rect x="67.2" y="351.4" width="7.4" height="7.6" fill="#b6b8c0"/>
<circle cx="69.2" cy="351.6" r="1.35" fill="#951a52" stroke="#5e0e34" stroke-width="0.4"/>
<circle cx="71" cy="351.2" r="1.35" fill="#951a52" stroke="#5e0e34" stroke-width="0.4"/>
<circle cx="72.7" cy="352.3" r="1.35" fill="#951a52" stroke="#5e0e34" stroke-width="0.4"/>
<line x1="70.9" y1="359" x2="70.9" y2="361.8" stroke="#222" stroke-width="0.7"/>
<rect x="78.95" y="356.4" width="7.4" height="2.6" fill="#b6b8c0"/>
<circle cx="80.95" cy="356.6" r="1.35" fill="#bf8a3e" stroke="#6a4a1a" stroke-width="0.4"/>
<circle cx="82.75" cy="356.2" r="1.35" fill="#bf8a3e" stroke="#6a4a1a" stroke-width="0.4"/>
<circle cx="84.45" cy="357.3" r="1.35" fill="#bf8a3e" stroke="#6a4a1a" stroke-width="0.4"/>
<line x1="82.65" y1="359" x2="82.65" y2="361.8" stroke="#222" stroke-width="0.7"/>
<rect x="90.7" y="356.5" width="7.4" height="2.5" fill="#b6b8c0"/>
<circle cx="92.7" cy="356.7" r="1.35" fill="#bf8a3e" stroke="#6a4a1a" stroke-width="0.4"/>
<circle cx="94.5" cy="356.3" r="1.35" fill="#bf8a3e" stroke="#6a4a1a" stroke-width="0.4"/>
<circle cx="96.2" cy="357.4" r="1.35" fill="#bf8a3e" stroke="#6a4a1a" stroke-width="0.4"/>
<line x1="94.4" y1="359" x2="94.4" y2="361.8" stroke="#222" stroke-width="0.7"/>
<rect x="102.45" y="356.4" width="7.4" height="2.6" fill="#b6b8c0"/>
<circle cx="104.45" cy="356.6" r="1.35" fill="#bf8a3e" stroke="#6a4a1a" stroke-width="0.4"/>
<circle cx="106.25" cy="356.2" r="1.35" fill="#bf8a3e" stroke="#6a4a1a" stroke-width="0.4"/>
<circle cx="107.95" cy="357.3" r="1.35" fill="#bf8a3e" stroke="#6a4a1a" stroke-width="0.4"/>
<line x1="106.15" y1="359" x2="106.15" y2="361.8" stroke="#222" stroke-width="0.7"/>
<line x1="46" y1="369.5" x2="48.8" y2="369.5" stroke="#555" stroke-width="0.7"/>
<line x1="47.4" y1="368.1" x2="47.4" y2="370.9" stroke="#555" stroke-width="0.7"/>
<line x1="57.75" y1="369.5" x2="60.55" y2="369.5" stroke="#555" stroke-width="0.7"/>
<line x1="69.5" y1="369.5" x2="72.3" y2="369.5" stroke="#555" stroke-width="0.7"/>
<line x1="70.9" y1="368.1" x2="70.9" y2="370.9" stroke="#555" stroke-width="0.7"/>
<line x1="81.25" y1="369.5" x2="84.05" y2="369.5" stroke="#555" stroke-width="0.7"/>
<line x1="82.65" y1="368.1" x2="82.65" y2="370.9" stroke="#555" stroke-width="0.7"/>
<line x1="93" y1="369.5" x2="95.8" y2="369.5" stroke="#555" stroke-width="0.7"/>
<line x1="104.75" y1="369.5" x2="107.55" y2="369.5" stroke="#555" stroke-width="0.7"/>
<line x1="106.15" y1="368.1" x2="106.15" y2="370.9" stroke="#555" stroke-width="0.7"/>
<line x1="46" y1="379.3" x2="48.8" y2="379.3" stroke="#555" stroke-width="0.7"/>
<line x1="57.75" y1="379.3" x2="60.55" y2="379.3" stroke="#555" stroke-width="0.7"/>
<line x1="59.15" y1="377.9" x2="59.15" y2="380.7" stroke="#555" stroke-width="0.7"/>
<line x1="69.5" y1="379.3" x2="72.3" y2="379.3" stroke="#555" stroke-width="0.7"/>
<line x1="70.9" y1="377.9" x2="70.9" y2="380.7" stroke="#555" stroke-width="0.7"/>
<line x1="81.25" y1="379.3" x2="84.05" y2="379.3" stroke="#555" stroke-width="0.7"/>
<line x1="93" y1="379.3" x2="95.8" y2="379.3" stroke="#555" stroke-width="0.7"/>
<line x1="94.4" y1="377.9" x2="94.4" y2="380.7" stroke="#555" stroke-width="0.7"/>
<line x1="104.75" y1="379.3" x2="107.55" y2="379.3" stroke="#555" stroke-width="0.7"/>
<line x1="106.15" y1="377.9" x2="106.15" y2="380.7" stroke="#555" stroke-width="0.7"/>
<line x1="45.4" y1="384.6" x2="108.15" y2="384.6" stroke="#999" stroke-width="1.2"/>
<text x="76.78" y="393.9" font-size="6.8" text-anchor="middle">0</text>
<polyline points="49,337.9 49,331.4 84.25,331.4 84.25,341.9" fill="none" stroke="#555" stroke-width="0.85"/>
<line x1="63.73" y1="326.8" x2="63.73" y2="329.2" stroke="#333" stroke-width="0.6"/>
<line x1="62.69" y1="327.4" x2="64.76" y2="328.6" stroke="#333" stroke-width="0.6"/>
<line x1="62.69" y1="328.6" x2="64.76" y2="327.4" stroke="#333" stroke-width="0.6"/>
<line x1="66.62" y1="326.8" x2="66.62" y2="329.2" stroke="#333" stroke-width="0.6"/>
<line x1="65.59" y1="327.4" x2="67.66" y2="328.6" stroke="#333" stroke-width="0.6"/>
<line x1="65.59" y1="328.6" x2="67.66" y2="327.4" stroke="#333" stroke-width="0.6"/>
<line x1="69.53" y1="326.8" x2="69.53" y2="329.2" stroke="#333" stroke-width="0.6"/>
<line x1="68.49" y1="327.4" x2="70.56" y2="328.6" stroke="#333" stroke-width="0.6"/>
<line x1="68.49" y1="328.6" x2="70.56" y2="327.4" stroke="#333" stroke-width="0.6"/>
<polyline points="60.75,321.1 60.75,314.6 96,314.6 96,341.9" fill="none" stroke="#555" stroke-width="0.85"/>
<line x1="75.47" y1="310" x2="75.47" y2="312.4" stroke="#333" stroke-width="0.6"/>
<line x1="74.44" y1="310.6" x2="76.51" y2="311.8" stroke="#333" stroke-width="0.6"/>
<line x1="74.44" y1="311.8" x2="76.51" y2="310.6" stroke="#333" stroke-width="0.6"/>
<line x1="78.38" y1="310" x2="78.38" y2="312.4" stroke="#333" stroke-width="0.6"/>
<line x1="77.34" y1="310.6" x2="79.41" y2="311.8" stroke="#333" stroke-width="0.6"/>
<line x1="77.34" y1="311.8" x2="79.41" y2="310.6" stroke="#333" stroke-width="0.6"/>
<line x1="81.28" y1="310" x2="81.28" y2="312.4" stroke="#333" stroke-width="0.6"/>
<line x1="80.24" y1="310.6" x2="82.31" y2="311.8" stroke="#333" stroke-width="0.6"/>
<line x1="80.24" y1="311.8" x2="82.31" y2="310.6" stroke="#333" stroke-width="0.6"/>
<polyline points="72.5,301.3 72.5,295.6 107.75,295.6 107.75,341.9" fill="none" stroke="#555" stroke-width="0.85"/>
<line x1="87.22" y1="291" x2="87.22" y2="293.4" stroke="#333" stroke-width="0.6"/>
<line x1="86.19" y1="291.6" x2="88.26" y2="292.8" stroke="#333" stroke-width="0.6"/>
<line x1="86.19" y1="292.8" x2="88.26" y2="291.6" stroke="#333" stroke-width="0.6"/>
<line x1="90.12" y1="291" x2="90.12" y2="293.4" stroke="#333" stroke-width="0.6"/>
<line x1="89.09" y1="291.6" x2="91.16" y2="292.8" stroke="#333" stroke-width="0.6"/>
<line x1="89.09" y1="292.8" x2="91.16" y2="291.6" stroke="#333" stroke-width="0.6"/>
<line x1="93.03" y1="291" x2="93.03" y2="293.4" stroke="#333" stroke-width="0.6"/>
<line x1="91.99" y1="291.6" x2="94.06" y2="292.8" stroke="#333" stroke-width="0.6"/>
<line x1="91.99" y1="292.8" x2="94.06" y2="291.6" stroke="#333" stroke-width="0.6"/>
<rect x="136.5" y="346.6" width="7.4" height="12.4" fill="#b6b8c0"/>
<circle cx="138.5" cy="346.8" r="1.35" fill="#951a52" stroke="#5e0e34" stroke-width="0.4"/>
<circle cx="140.3" cy="346.4" r="1.35" fill="#951a52" stroke="#5e0e34" stroke-width="0.4"/>
<circle cx="142" cy="347.5" r="1.35" fill="#951a52" stroke="#5e0e34" stroke-width="0.4"/>
<line x1="140.2" y1="359" x2="140.2" y2="361.8" stroke="#222" stroke-width="0.7"/>
<rect x="148.25" y="348.8" width="7.4" height="10.2" fill="#b6b8c0"/>
<circle cx="150.25" cy="349" r="1.35" fill="#951a52" stroke="#5e0e34" stroke-width="0.4"/>
<circle cx="152.05" cy="348.6" r="1.35" fill="#951a52" stroke="#5e0e34" stroke-width="0.4"/>
<circle cx="153.75" cy="349.7" r="1.35" fill="#951a52" stroke="#5e0e34" stroke-width="0.4"/>
<line x1="151.95" y1="359" x2="151.95" y2="361.8" stroke="#222" stroke-width="0.7"/>
<rect x="160" y="343.3" width="7.4" height="15.7" fill="#b6b8c0"/>
<circle cx="162" cy="343.5" r="1.35" fill="#951a52" stroke="#5e0e34" stroke-width="0.4"/>
<circle cx="163.8" cy="343.1" r="1.35" fill="#951a52" stroke="#5e0e34" stroke-width="0.4"/>
<circle cx="165.5" cy="344.2" r="1.35" fill="#951a52" stroke="#5e0e34" stroke-width="0.4"/>
<line x1="163.7" y1="359" x2="163.7" y2="361.8" stroke="#222" stroke-width="0.7"/>
<rect x="171.75" y="355.8" width="7.4" height="3.2" fill="#b6b8c0"/>
<circle cx="173.75" cy="356" r="1.35" fill="#bf8a3e" stroke="#6a4a1a" stroke-width="0.4"/>
<circle cx="175.55" cy="355.6" r="1.35" fill="#bf8a3e" stroke="#6a4a1a" stroke-width="0.4"/>
<circle cx="177.25" cy="356.7" r="1.35" fill="#bf8a3e" stroke="#6a4a1a" stroke-width="0.4"/>
<line x1="175.45" y1="359" x2="175.45" y2="361.8" stroke="#222" stroke-width="0.7"/>
<rect x="183.5" y="355.6" width="7.4" height="3.4" fill="#b6b8c0"/>
<circle cx="185.5" cy="355.8" r="1.35" fill="#bf8a3e" stroke="#6a4a1a" stroke-width="0.4"/>
<circle cx="187.3" cy="355.4" r="1.35" fill="#bf8a3e" stroke="#6a4a1a" stroke-width="0.4"/>
<circle cx="189" cy="356.5" r="1.35" fill="#bf8a3e" stroke="#6a4a1a" stroke-width="0.4"/>
<line x1="187.2" y1="359" x2="187.2" y2="361.8" stroke="#222" stroke-width="0.7"/>
<rect x="195.25" y="350.7" width="7.4" height="8.3" fill="#b6b8c0"/>
<circle cx="197.25" cy="350.9" r="1.35" fill="#bf8a3e" stroke="#6a4a1a" stroke-width="0.4"/>
<circle cx="199.05" cy="350.5" r="1.35" fill="#bf8a3e" stroke="#6a4a1a" stroke-width="0.4"/>
<circle cx="200.75" cy="351.6" r="1.35" fill="#bf8a3e" stroke="#6a4a1a" stroke-width="0.4"/>
<line x1="198.95" y1="359" x2="198.95" y2="361.8" stroke="#222" stroke-width="0.7"/>
<line x1="138.8" y1="369.5" x2="141.6" y2="369.5" stroke="#555" stroke-width="0.7"/>
<line x1="140.2" y1="368.1" x2="140.2" y2="370.9" stroke="#555" stroke-width="0.7"/>
<line x1="150.55" y1="369.5" x2="153.35" y2="369.5" stroke="#555" stroke-width="0.7"/>
<line x1="162.3" y1="369.5" x2="165.1" y2="369.5" stroke="#555" stroke-width="0.7"/>
<line x1="163.7" y1="368.1" x2="163.7" y2="370.9" stroke="#555" stroke-width="0.7"/>
<line x1="174.05" y1="369.5" x2="176.85" y2="369.5" stroke="#555" stroke-width="0.7"/>
<line x1="175.45" y1="368.1" x2="175.45" y2="370.9" stroke="#555" stroke-width="0.7"/>
<line x1="185.8" y1="369.5" x2="188.6" y2="369.5" stroke="#555" stroke-width="0.7"/>
<line x1="197.55" y1="369.5" x2="200.35" y2="369.5" stroke="#555" stroke-width="0.7"/>
<line x1="198.95" y1="368.1" x2="198.95" y2="370.9" stroke="#555" stroke-width="0.7"/>
<line x1="138.8" y1="379.3" x2="141.6" y2="379.3" stroke="#555" stroke-width="0.7"/>
<line x1="150.55" y1="379.3" x2="153.35" y2="379.3" stroke="#555" stroke-width="0.7"/>
<line x1="151.95" y1="377.9" x2="151.95" y2="380.7" stroke="#555" stroke-width="0.7"/>
<line x1="162.3" y1="379.3" x2="165.1" y2="379.3" stroke="#555" stroke-width="0.7"/>
<line x1="163.7" y1="377.9" x2="163.7" y2="380.7" stroke="#555" stroke-width="0.7"/>
<line x1="174.05" y1="379.3" x2="176.85" y2="379.3" stroke="#555" stroke-width="0.7"/>
<line x1="185.8" y1="379.3" x2="188.6" y2="379.3" stroke="#555" stroke-width="0.7"/>
<line x1="187.2" y1="377.9" x2="187.2" y2="380.7" stroke="#555" stroke-width="0.7"/>
<line x1="197.55" y1="379.3" x2="200.35" y2="379.3" stroke="#555" stroke-width="0.7"/>
<line x1="198.95" y1="377.9" x2="198.95" y2="380.7" stroke="#555" stroke-width="0.7"/>
<line x1="138.2" y1="384.6" x2="200.95" y2="384.6" stroke="#999" stroke-width="1.2"/>
<text x="169.57" y="393.9" font-size="6.8" text-anchor="middle">0.5</text>
<polyline points="141.3,333 141.3,326.1 176.55,326.1 176.55,336.4" fill="none" stroke="#555" stroke-width="0.85"/>
<line x1="156.02" y1="321.5" x2="156.02" y2="323.9" stroke="#333" stroke-width="0.6"/>
<line x1="154.99" y1="322.1" x2="157.06" y2="323.3" stroke="#333" stroke-width="0.6"/>
<line x1="154.99" y1="323.3" x2="157.06" y2="322.1" stroke="#333" stroke-width="0.6"/>
<line x1="158.92" y1="321.5" x2="158.92" y2="323.9" stroke="#333" stroke-width="0.6"/>
<line x1="157.89" y1="322.1" x2="159.96" y2="323.3" stroke="#333" stroke-width="0.6"/>
<line x1="157.89" y1="323.3" x2="159.96" y2="322.1" stroke="#333" stroke-width="0.6"/>
<line x1="161.82" y1="321.5" x2="161.82" y2="323.9" stroke="#333" stroke-width="0.6"/>
<line x1="160.79" y1="322.1" x2="162.86" y2="323.3" stroke="#333" stroke-width="0.6"/>
<line x1="160.79" y1="323.3" x2="162.86" y2="322.1" stroke="#333" stroke-width="0.6"/>
<polyline points="153.05,316 153.05,310.1 188.3,310.1 188.3,336.4" fill="none" stroke="#555" stroke-width="0.85"/>
<line x1="167.77" y1="305.5" x2="167.77" y2="307.9" stroke="#333" stroke-width="0.6"/>
<line x1="166.74" y1="306.1" x2="168.81" y2="307.3" stroke="#333" stroke-width="0.6"/>
<line x1="166.74" y1="307.3" x2="168.81" y2="306.1" stroke="#333" stroke-width="0.6"/>
<line x1="170.67" y1="305.5" x2="170.67" y2="307.9" stroke="#333" stroke-width="0.6"/>
<line x1="169.64" y1="306.1" x2="171.71" y2="307.3" stroke="#333" stroke-width="0.6"/>
<line x1="169.64" y1="307.3" x2="171.71" y2="306.1" stroke="#333" stroke-width="0.6"/>
<line x1="173.57" y1="305.5" x2="173.57" y2="307.9" stroke="#333" stroke-width="0.6"/>
<line x1="172.54" y1="306.1" x2="174.61" y2="307.3" stroke="#333" stroke-width="0.6"/>
<line x1="172.54" y1="307.3" x2="174.61" y2="306.1" stroke="#333" stroke-width="0.6"/>
<polyline points="164.8,296 164.8,290 200.05,290 200.05,336.4" fill="none" stroke="#555" stroke-width="0.85"/>
<line x1="179.52" y1="285.4" x2="179.52" y2="287.8" stroke="#333" stroke-width="0.6"/>
<line x1="178.49" y1="286" x2="180.56" y2="287.2" stroke="#333" stroke-width="0.6"/>
<line x1="178.49" y1="287.2" x2="180.56" y2="286" stroke="#333" stroke-width="0.6"/>
<line x1="182.42" y1="285.4" x2="182.42" y2="287.8" stroke="#333" stroke-width="0.6"/>
<line x1="181.39" y1="286" x2="183.46" y2="287.2" stroke="#333" stroke-width="0.6"/>
<line x1="181.39" y1="287.2" x2="183.46" y2="286" stroke="#333" stroke-width="0.6"/>
<line x1="185.32" y1="285.4" x2="185.32" y2="287.8" stroke="#333" stroke-width="0.6"/>
<line x1="184.29" y1="286" x2="186.36" y2="287.2" stroke="#333" stroke-width="0.6"/>
<line x1="184.29" y1="287.2" x2="186.36" y2="286" stroke="#333" stroke-width="0.6"/>
<rect x="228.7" y="347.4" width="7.4" height="11.6" fill="#b6b8c0"/>
<circle cx="230.7" cy="347.6" r="1.35" fill="#951a52" stroke="#5e0e34" stroke-width="0.4"/>
<circle cx="232.5" cy="347.2" r="1.35" fill="#951a52" stroke="#5e0e34" stroke-width="0.4"/>
<circle cx="234.2" cy="348.3" r="1.35" fill="#951a52" stroke="#5e0e34" stroke-width="0.4"/>
<line x1="232.4" y1="359" x2="232.4" y2="361.8" stroke="#222" stroke-width="0.7"/>
<rect x="240.45" y="350.2" width="7.4" height="8.8" fill="#b6b8c0"/>
<circle cx="242.45" cy="350.4" r="1.35" fill="#951a52" stroke="#5e0e34" stroke-width="0.4"/>
<circle cx="244.25" cy="350" r="1.35" fill="#951a52" stroke="#5e0e34" stroke-width="0.4"/>
<circle cx="245.95" cy="351.1" r="1.35" fill="#951a52" stroke="#5e0e34" stroke-width="0.4"/>
<line x1="244.15" y1="359" x2="244.15" y2="361.8" stroke="#222" stroke-width="0.7"/>
<rect x="252.2" y="333.6" width="7.4" height="25.4" fill="#b6b8c0"/>
<line x1="255.9" y1="333.6" x2="255.9" y2="329.1" stroke="#333" stroke-width="0.6"/>
<line x1="254.1" y1="329.1" x2="257.7" y2="329.1" stroke="#333" stroke-width="0.7"/>
<line x1="255.9" y1="333.6" x2="255.9" y2="338.1" stroke="#333" stroke-width="0.6"/>
<circle cx="253.9" cy="334.2" r="1.35" fill="#951a52" stroke="#5e0e34" stroke-width="0.4"/>
<circle cx="256.1" cy="332.3" r="1.35" fill="#951a52" stroke="#5e0e34" stroke-width="0.4"/>
<circle cx="257.9" cy="335.1" r="1.35" fill="#951a52" stroke="#5e0e34" stroke-width="0.4"/>
<line x1="255.9" y1="359" x2="255.9" y2="361.8" stroke="#222" stroke-width="0.7"/>
<rect x="263.95" y="356.5" width="7.4" height="2.5" fill="#b6b8c0"/>
<circle cx="265.95" cy="356.7" r="1.35" fill="#bf8a3e" stroke="#6a4a1a" stroke-width="0.4"/>
<circle cx="267.75" cy="356.3" r="1.35" fill="#bf8a3e" stroke="#6a4a1a" stroke-width="0.4"/>
<circle cx="269.45" cy="357.4" r="1.35" fill="#bf8a3e" stroke="#6a4a1a" stroke-width="0.4"/>
<line x1="267.65" y1="359" x2="267.65" y2="361.8" stroke="#222" stroke-width="0.7"/>
<rect x="275.7" y="356.6" width="7.4" height="2.4" fill="#b6b8c0"/>
<circle cx="277.7" cy="356.8" r="1.35" fill="#bf8a3e" stroke="#6a4a1a" stroke-width="0.4"/>
<circle cx="279.5" cy="356.4" r="1.35" fill="#bf8a3e" stroke="#6a4a1a" stroke-width="0.4"/>
<circle cx="281.2" cy="357.5" r="1.35" fill="#bf8a3e" stroke="#6a4a1a" stroke-width="0.4"/>
<line x1="279.4" y1="359" x2="279.4" y2="361.8" stroke="#222" stroke-width="0.7"/>
<rect x="287.45" y="352.4" width="7.4" height="6.6" fill="#b6b8c0"/>
<circle cx="289.45" cy="352.6" r="1.35" fill="#bf8a3e" stroke="#6a4a1a" stroke-width="0.4"/>
<circle cx="291.25" cy="352.2" r="1.35" fill="#bf8a3e" stroke="#6a4a1a" stroke-width="0.4"/>
<circle cx="292.95" cy="353.3" r="1.35" fill="#bf8a3e" stroke="#6a4a1a" stroke-width="0.4"/>
<line x1="291.15" y1="359" x2="291.15" y2="361.8" stroke="#222" stroke-width="0.7"/>
<line x1="231" y1="369.5" x2="233.8" y2="369.5" stroke="#555" stroke-width="0.7"/>
<line x1="232.4" y1="368.1" x2="232.4" y2="370.9" stroke="#555" stroke-width="0.7"/>
<line x1="242.75" y1="369.5" x2="245.55" y2="369.5" stroke="#555" stroke-width="0.7"/>
<line x1="254.5" y1="369.5" x2="257.3" y2="369.5" stroke="#555" stroke-width="0.7"/>
<line x1="255.9" y1="368.1" x2="255.9" y2="370.9" stroke="#555" stroke-width="0.7"/>
<line x1="266.25" y1="369.5" x2="269.05" y2="369.5" stroke="#555" stroke-width="0.7"/>
<line x1="267.65" y1="368.1" x2="267.65" y2="370.9" stroke="#555" stroke-width="0.7"/>
<line x1="278" y1="369.5" x2="280.8" y2="369.5" stroke="#555" stroke-width="0.7"/>
<line x1="289.75" y1="369.5" x2="292.55" y2="369.5" stroke="#555" stroke-width="0.7"/>
<line x1="291.15" y1="368.1" x2="291.15" y2="370.9" stroke="#555" stroke-width="0.7"/>
<line x1="231" y1="379.3" x2="233.8" y2="379.3" stroke="#555" stroke-width="0.7"/>
<line x1="242.75" y1="379.3" x2="245.55" y2="379.3" stroke="#555" stroke-width="0.7"/>
<line x1="244.15" y1="377.9" x2="244.15" y2="380.7" stroke="#555" stroke-width="0.7"/>
<line x1="254.5" y1="379.3" x2="257.3" y2="379.3" stroke="#555" stroke-width="0.7"/>
<line x1="255.9" y1="377.9" x2="255.9" y2="380.7" stroke="#555" stroke-width="0.7"/>
<line x1="266.25" y1="379.3" x2="269.05" y2="379.3" stroke="#555" stroke-width="0.7"/>
<line x1="278" y1="379.3" x2="280.8" y2="379.3" stroke="#555" stroke-width="0.7"/>
<line x1="279.4" y1="377.9" x2="279.4" y2="380.7" stroke="#555" stroke-width="0.7"/>
<line x1="289.75" y1="379.3" x2="292.55" y2="379.3" stroke="#555" stroke-width="0.7"/>
<line x1="291.15" y1="377.9" x2="291.15" y2="380.7" stroke="#555" stroke-width="0.7"/>
<line x1="230.4" y1="384.6" x2="293.15" y2="384.6" stroke="#999" stroke-width="1.2"/>
<text x="261.77" y="393.9" font-size="6.8" text-anchor="middle">1</text>
<polyline points="234.4,328 234.4,321.7 269.65,321.7 269.65,332.2" fill="none" stroke="#555" stroke-width="0.85"/>
<line x1="249.12" y1="317.1" x2="249.12" y2="319.5" stroke="#333" stroke-width="0.6"/>
<line x1="248.09" y1="317.7" x2="250.16" y2="318.9" stroke="#333" stroke-width="0.6"/>
<line x1="248.09" y1="318.9" x2="250.16" y2="317.7" stroke="#333" stroke-width="0.6"/>
<line x1="252.02" y1="317.1" x2="252.02" y2="319.5" stroke="#333" stroke-width="0.6"/>
<line x1="250.99" y1="317.7" x2="253.06" y2="318.9" stroke="#333" stroke-width="0.6"/>
<line x1="250.99" y1="318.9" x2="253.06" y2="317.7" stroke="#333" stroke-width="0.6"/>
<line x1="254.92" y1="317.1" x2="254.92" y2="319.5" stroke="#333" stroke-width="0.6"/>
<line x1="253.89" y1="317.7" x2="255.96" y2="318.9" stroke="#333" stroke-width="0.6"/>
<line x1="253.89" y1="318.9" x2="255.96" y2="317.7" stroke="#333" stroke-width="0.6"/>
<polyline points="246.15,310 246.15,304.6 281.4,304.6 281.4,332.2" fill="none" stroke="#555" stroke-width="0.85"/>
<line x1="263.77" y1="300" x2="263.77" y2="302.4" stroke="#333" stroke-width="0.6"/>
<line x1="262.74" y1="300.6" x2="264.81" y2="301.8" stroke="#333" stroke-width="0.6"/>
<line x1="262.74" y1="301.8" x2="264.81" y2="300.6" stroke="#333" stroke-width="0.6"/>
<polyline points="257.9,292 257.9,285.8 293.15,285.8 293.15,332.2" fill="none" stroke="#555" stroke-width="0.85"/>
<line x1="272.62" y1="281.2" x2="272.62" y2="283.6" stroke="#333" stroke-width="0.6"/>
<line x1="271.59" y1="281.8" x2="273.66" y2="283" stroke="#333" stroke-width="0.6"/>
<line x1="271.59" y1="283" x2="273.66" y2="281.8" stroke="#333" stroke-width="0.6"/>
<line x1="275.52" y1="281.2" x2="275.52" y2="283.6" stroke="#333" stroke-width="0.6"/>
<line x1="274.49" y1="281.8" x2="276.56" y2="283" stroke="#333" stroke-width="0.6"/>
<line x1="274.49" y1="283" x2="276.56" y2="281.8" stroke="#333" stroke-width="0.6"/>
<line x1="278.42" y1="281.2" x2="278.42" y2="283.6" stroke="#333" stroke-width="0.6"/>
<line x1="277.39" y1="281.8" x2="279.46" y2="283" stroke="#333" stroke-width="0.6"/>
<line x1="277.39" y1="283" x2="279.46" y2="281.8" stroke="#333" stroke-width="0.6"/>
<rect x="322.3" y="341.9" width="7.4" height="17.1" fill="#b6b8c0"/>
<circle cx="324.3" cy="342.1" r="1.35" fill="#951a52" stroke="#5e0e34" stroke-width="0.4"/>
<circle cx="326.1" cy="341.7" r="1.35" fill="#951a52" stroke="#5e0e34" stroke-width="0.4"/>
<circle cx="327.8" cy="342.8" r="1.35" fill="#951a52" stroke="#5e0e34" stroke-width="0.4"/>
<line x1="326" y1="359" x2="326" y2="361.8" stroke="#222" stroke-width="0.7"/>
<rect x="334.05" y="339.1" width="7.4" height="19.9" fill="#b6b8c0"/>
<circle cx="336.05" cy="339.3" r="1.35" fill="#951a52" stroke="#5e0e34" stroke-width="0.4"/>
<circle cx="337.85" cy="338.9" r="1.35" fill="#951a52" stroke="#5e0e34" stroke-width="0.4"/>
<circle cx="339.55" cy="340" r="1.35" fill="#951a52" stroke="#5e0e34" stroke-width="0.4"/>
<line x1="337.75" y1="359" x2="337.75" y2="361.8" stroke="#222" stroke-width="0.7"/>
<rect x="345.8" y="310.1" width="7.4" height="48.9" fill="#b6b8c0"/>
<line x1="349.5" y1="310.1" x2="349.5" y2="305.6" stroke="#333" stroke-width="0.6"/>
<line x1="347.7" y1="305.6" x2="351.3" y2="305.6" stroke="#333" stroke-width="0.7"/>
<line x1="349.5" y1="310.1" x2="349.5" y2="314.6" stroke="#333" stroke-width="0.6"/>
<circle cx="347.5" cy="310.7" r="1.35" fill="#951a52" stroke="#5e0e34" stroke-width="0.4"/>
<circle cx="349.7" cy="308.8" r="1.35" fill="#951a52" stroke="#5e0e34" stroke-width="0.4"/>
<circle cx="351.5" cy="311.6" r="1.35" fill="#951a52" stroke="#5e0e34" stroke-width="0.4"/>
<line x1="349.5" y1="359" x2="349.5" y2="361.8" stroke="#222" stroke-width="0.7"/>
<rect x="357.55" y="355.2" width="7.4" height="3.8" fill="#b6b8c0"/>
<circle cx="359.55" cy="355.4" r="1.35" fill="#bf8a3e" stroke="#6a4a1a" stroke-width="0.4"/>
<circle cx="361.35" cy="355" r="1.35" fill="#bf8a3e" stroke="#6a4a1a" stroke-width="0.4"/>
<circle cx="363.05" cy="356.1" r="1.35" fill="#bf8a3e" stroke="#6a4a1a" stroke-width="0.4"/>
<line x1="361.25" y1="359" x2="361.25" y2="361.8" stroke="#222" stroke-width="0.7"/>
<rect x="369.3" y="356.4" width="7.4" height="2.6" fill="#b6b8c0"/>
<circle cx="371.3" cy="356.6" r="1.35" fill="#bf8a3e" stroke="#6a4a1a" stroke-width="0.4"/>
<circle cx="373.1" cy="356.2" r="1.35" fill="#bf8a3e" stroke="#6a4a1a" stroke-width="0.4"/>
<circle cx="374.8" cy="357.3" r="1.35" fill="#bf8a3e" stroke="#6a4a1a" stroke-width="0.4"/>
<line x1="373" y1="359" x2="373" y2="361.8" stroke="#222" stroke-width="0.7"/>
<rect x="381.05" y="336.4" width="7.4" height="22.6" fill="#b6b8c0"/>
<line x1="384.75" y1="336.4" x2="384.75" y2="331.9" stroke="#333" stroke-width="0.6"/>
<line x1="382.95" y1="331.9" x2="386.55" y2="331.9" stroke="#333" stroke-width="0.7"/>
<line x1="384.75" y1="336.4" x2="384.75" y2="340.9" stroke="#333" stroke-width="0.6"/>
<circle cx="382.75" cy="337" r="1.35" fill="#bf8a3e" stroke="#6a4a1a" stroke-width="0.4"/>
<circle cx="384.95" cy="335.1" r="1.35" fill="#bf8a3e" stroke="#6a4a1a" stroke-width="0.4"/>
<circle cx="386.75" cy="337.9" r="1.35" fill="#bf8a3e" stroke="#6a4a1a" stroke-width="0.4"/>
<line x1="384.75" y1="359" x2="384.75" y2="361.8" stroke="#222" stroke-width="0.7"/>
<line x1="324.6" y1="369.5" x2="327.4" y2="369.5" stroke="#555" stroke-width="0.7"/>
<line x1="326" y1="368.1" x2="326" y2="370.9" stroke="#555" stroke-width="0.7"/>
<line x1="336.35" y1="369.5" x2="339.15" y2="369.5" stroke="#555" stroke-width="0.7"/>
<line x1="348.1" y1="369.5" x2="350.9" y2="369.5" stroke="#555" stroke-width="0.7"/>
<line x1="349.5" y1="368.1" x2="349.5" y2="370.9" stroke="#555" stroke-width="0.7"/>
<line x1="359.85" y1="369.5" x2="362.65" y2="369.5" stroke="#555" stroke-width="0.7"/>
<line x1="361.25" y1="368.1" x2="361.25" y2="370.9" stroke="#555" stroke-width="0.7"/>
<line x1="371.6" y1="369.5" x2="374.4" y2="369.5" stroke="#555" stroke-width="0.7"/>
<line x1="383.35" y1="369.5" x2="386.15" y2="369.5" stroke="#555" stroke-width="0.7"/>
<line x1="384.75" y1="368.1" x2="384.75" y2="370.9" stroke="#555" stroke-width="0.7"/>
<line x1="324.6" y1="379.3" x2="327.4" y2="379.3" stroke="#555" stroke-width="0.7"/>
<line x1="336.35" y1="379.3" x2="339.15" y2="379.3" stroke="#555" stroke-width="0.7"/>
<line x1="337.75" y1="377.9" x2="337.75" y2="380.7" stroke="#555" stroke-width="0.7"/>
<line x1="348.1" y1="379.3" x2="350.9" y2="379.3" stroke="#555" stroke-width="0.7"/>
<line x1="349.5" y1="377.9" x2="349.5" y2="380.7" stroke="#555" stroke-width="0.7"/>
<line x1="359.85" y1="379.3" x2="362.65" y2="379.3" stroke="#555" stroke-width="0.7"/>
<line x1="371.6" y1="379.3" x2="374.4" y2="379.3" stroke="#555" stroke-width="0.7"/>
<line x1="373" y1="377.9" x2="373" y2="380.7" stroke="#555" stroke-width="0.7"/>
<line x1="383.35" y1="379.3" x2="386.15" y2="379.3" stroke="#555" stroke-width="0.7"/>
<line x1="384.75" y1="377.9" x2="384.75" y2="380.7" stroke="#555" stroke-width="0.7"/>
<line x1="324" y1="384.6" x2="386.75" y2="384.6" stroke="#999" stroke-width="1.2"/>
<text x="355.38" y="393.9" font-size="6.8" text-anchor="middle">6</text>
<polyline points="327.1,304.6 327.1,299.1 362.35,299.1 362.35,326.7" fill="none" stroke="#555" stroke-width="0.85"/>
<line x1="341.83" y1="294.5" x2="341.83" y2="296.9" stroke="#333" stroke-width="0.6"/>
<line x1="340.79" y1="295.1" x2="342.86" y2="296.3" stroke="#333" stroke-width="0.6"/>
<line x1="340.79" y1="296.3" x2="342.86" y2="295.1" stroke="#333" stroke-width="0.6"/>
<line x1="344.73" y1="294.5" x2="344.73" y2="296.9" stroke="#333" stroke-width="0.6"/>
<line x1="343.69" y1="295.1" x2="345.76" y2="296.3" stroke="#333" stroke-width="0.6"/>
<line x1="343.69" y1="296.3" x2="345.76" y2="295.1" stroke="#333" stroke-width="0.6"/>
<line x1="347.62" y1="294.5" x2="347.62" y2="296.9" stroke="#333" stroke-width="0.6"/>
<line x1="346.59" y1="295.1" x2="348.66" y2="296.3" stroke="#333" stroke-width="0.6"/>
<line x1="346.59" y1="296.3" x2="348.66" y2="295.1" stroke="#333" stroke-width="0.6"/>
<polyline points="338.85,289.4 338.85,283 374.1,283 374.1,326.7" fill="none" stroke="#555" stroke-width="0.85"/>
<line x1="353.58" y1="278.4" x2="353.58" y2="280.8" stroke="#333" stroke-width="0.6"/>
<line x1="352.54" y1="279" x2="354.61" y2="280.2" stroke="#333" stroke-width="0.6"/>
<line x1="352.54" y1="280.2" x2="354.61" y2="279" stroke="#333" stroke-width="0.6"/>
<line x1="356.48" y1="278.4" x2="356.48" y2="280.8" stroke="#333" stroke-width="0.6"/>
<line x1="355.44" y1="279" x2="357.51" y2="280.2" stroke="#333" stroke-width="0.6"/>
<line x1="355.44" y1="280.2" x2="357.51" y2="279" stroke="#333" stroke-width="0.6"/>
<line x1="359.38" y1="278.4" x2="359.38" y2="280.8" stroke="#333" stroke-width="0.6"/>
<line x1="358.34" y1="279" x2="360.41" y2="280.2" stroke="#333" stroke-width="0.6"/>
<line x1="358.34" y1="280.2" x2="360.41" y2="279" stroke="#333" stroke-width="0.6"/>
<polyline points="350.6,268.7 350.6,263.7 385.85,263.7 385.85,326.7" fill="none" stroke="#555" stroke-width="0.85"/>
<line x1="365.33" y1="259.1" x2="365.33" y2="261.5" stroke="#333" stroke-width="0.6"/>
<line x1="364.29" y1="259.7" x2="366.36" y2="260.9" stroke="#333" stroke-width="0.6"/>
<line x1="364.29" y1="260.9" x2="366.36" y2="259.7" stroke="#333" stroke-width="0.6"/>
<line x1="368.23" y1="259.1" x2="368.23" y2="261.5" stroke="#333" stroke-width="0.6"/>
<line x1="367.19" y1="259.7" x2="369.26" y2="260.9" stroke="#333" stroke-width="0.6"/>
<line x1="367.19" y1="260.9" x2="369.26" y2="259.7" stroke="#333" stroke-width="0.6"/>
<line x1="371.12" y1="259.1" x2="371.12" y2="261.5" stroke="#333" stroke-width="0.6"/>
<line x1="370.09" y1="259.7" x2="372.16" y2="260.9" stroke="#333" stroke-width="0.6"/>
<line x1="370.09" y1="260.9" x2="372.16" y2="259.7" stroke="#333" stroke-width="0.6"/>
<rect x="414.2" y="332.6" width="7.4" height="26.4" fill="#b6b8c0"/>
<circle cx="416.1" cy="332" r="1.35" fill="#951a52" stroke="#5e0e34" stroke-width="0.4"/>
<circle cx="418.1" cy="333" r="1.35" fill="#951a52" stroke="#5e0e34" stroke-width="0.4"/>
<circle cx="419.8" cy="334" r="1.35" fill="#951a52" stroke="#5e0e34" stroke-width="0.4"/>
<line x1="417.9" y1="359" x2="417.9" y2="361.8" stroke="#222" stroke-width="0.7"/>
<rect x="425.95" y="303" width="7.4" height="56" fill="#b6b8c0"/>
<line x1="429.65" y1="303" x2="429.65" y2="292" stroke="#333" stroke-width="0.6"/>
<line x1="427.85" y1="292" x2="431.45" y2="292" stroke="#333" stroke-width="0.7"/>
<circle cx="429.65" cy="292.5" r="1.35" fill="#951a52" stroke="#5e0e34" stroke-width="0.4"/>
<circle cx="428.05" cy="301.6" r="1.35" fill="#951a52" stroke="#5e0e34" stroke-width="0.4"/>
<circle cx="431.25" cy="304.2" r="1.35" fill="#951a52" stroke="#5e0e34" stroke-width="0.4"/>
<line x1="429.65" y1="359" x2="429.65" y2="361.8" stroke="#222" stroke-width="0.7"/>
<rect x="437.7" y="263.4" width="7.4" height="95.6" fill="#b6b8c0"/>
<line x1="441.4" y1="263.4" x2="441.4" y2="258.9" stroke="#333" stroke-width="0.6"/>
<line x1="439.6" y1="258.9" x2="443.2" y2="258.9" stroke="#333" stroke-width="0.7"/>
<line x1="441.4" y1="263.4" x2="441.4" y2="267.9" stroke="#333" stroke-width="0.6"/>
<circle cx="439.6" cy="260.9" r="1.35" fill="#951a52" stroke="#5e0e34" stroke-width="0.4"/>
<circle cx="443" cy="263.7" r="1.35" fill="#951a52" stroke="#5e0e34" stroke-width="0.4"/>
<circle cx="441.4" cy="267.4" r="1.35" fill="#951a52" stroke="#5e0e34" stroke-width="0.4"/>
<line x1="441.4" y1="359" x2="441.4" y2="361.8" stroke="#222" stroke-width="0.7"/>
<rect x="449.45" y="354.5" width="7.4" height="4.5" fill="#b6b8c0"/>
<circle cx="451.45" cy="354.7" r="1.35" fill="#bf8a3e" stroke="#6a4a1a" stroke-width="0.4"/>
<circle cx="453.25" cy="354.3" r="1.35" fill="#bf8a3e" stroke="#6a4a1a" stroke-width="0.4"/>
<circle cx="454.95" cy="355.4" r="1.35" fill="#bf8a3e" stroke="#6a4a1a" stroke-width="0.4"/>
<line x1="453.15" y1="359" x2="453.15" y2="361.8" stroke="#222" stroke-width="0.7"/>
<rect x="461.2" y="347" width="7.4" height="12" fill="#b6b8c0"/>
<circle cx="463.2" cy="347.2" r="1.35" fill="#bf8a3e" stroke="#6a4a1a" stroke-width="0.4"/>
<circle cx="465" cy="346.8" r="1.35" fill="#bf8a3e" stroke="#6a4a1a" stroke-width="0.4"/>
<circle cx="466.7" cy="347.9" r="1.35" fill="#bf8a3e" stroke="#6a4a1a" stroke-width="0.4"/>
<line x1="464.9" y1="359" x2="464.9" y2="361.8" stroke="#222" stroke-width="0.7"/>
<rect x="472.95" y="335.8" width="7.4" height="23.2" fill="#b6b8c0"/>
<line x1="476.65" y1="335.8" x2="476.65" y2="331.3" stroke="#333" stroke-width="0.6"/>
<line x1="474.85" y1="331.3" x2="478.45" y2="331.3" stroke="#333" stroke-width="0.7"/>
<line x1="476.65" y1="335.8" x2="476.65" y2="340.3" stroke="#333" stroke-width="0.6"/>
<circle cx="474.85" cy="333.3" r="1.35" fill="#bf8a3e" stroke="#6a4a1a" stroke-width="0.4"/>
<circle cx="478.25" cy="336.1" r="1.35" fill="#bf8a3e" stroke="#6a4a1a" stroke-width="0.4"/>
<circle cx="476.65" cy="339.8" r="1.35" fill="#bf8a3e" stroke="#6a4a1a" stroke-width="0.4"/>
<line x1="476.65" y1="359" x2="476.65" y2="361.8" stroke="#222" stroke-width="0.7"/>
<line x1="416.5" y1="369.5" x2="419.3" y2="369.5" stroke="#555" stroke-width="0.7"/>
<line x1="417.9" y1="368.1" x2="417.9" y2="370.9" stroke="#555" stroke-width="0.7"/>
<line x1="428.25" y1="369.5" x2="431.05" y2="369.5" stroke="#555" stroke-width="0.7"/>
<line x1="440" y1="369.5" x2="442.8" y2="369.5" stroke="#555" stroke-width="0.7"/>
<line x1="441.4" y1="368.1" x2="441.4" y2="370.9" stroke="#555" stroke-width="0.7"/>
<line x1="451.75" y1="369.5" x2="454.55" y2="369.5" stroke="#555" stroke-width="0.7"/>
<line x1="453.15" y1="368.1" x2="453.15" y2="370.9" stroke="#555" stroke-width="0.7"/>
<line x1="463.5" y1="369.5" x2="466.3" y2="369.5" stroke="#555" stroke-width="0.7"/>
<line x1="475.25" y1="369.5" x2="478.05" y2="369.5" stroke="#555" stroke-width="0.7"/>
<line x1="476.65" y1="368.1" x2="476.65" y2="370.9" stroke="#555" stroke-width="0.7"/>
<line x1="416.5" y1="379.3" x2="419.3" y2="379.3" stroke="#555" stroke-width="0.7"/>
<line x1="428.25" y1="379.3" x2="431.05" y2="379.3" stroke="#555" stroke-width="0.7"/>
<line x1="429.65" y1="377.9" x2="429.65" y2="380.7" stroke="#555" stroke-width="0.7"/>
<line x1="440" y1="379.3" x2="442.8" y2="379.3" stroke="#555" stroke-width="0.7"/>
<line x1="441.4" y1="377.9" x2="441.4" y2="380.7" stroke="#555" stroke-width="0.7"/>
<line x1="451.75" y1="379.3" x2="454.55" y2="379.3" stroke="#555" stroke-width="0.7"/>
<line x1="463.5" y1="379.3" x2="466.3" y2="379.3" stroke="#555" stroke-width="0.7"/>
<line x1="464.9" y1="377.9" x2="464.9" y2="380.7" stroke="#555" stroke-width="0.7"/>
<line x1="475.25" y1="379.3" x2="478.05" y2="379.3" stroke="#555" stroke-width="0.7"/>
<line x1="476.65" y1="377.9" x2="476.65" y2="380.7" stroke="#555" stroke-width="0.7"/>
<line x1="415.9" y1="384.6" x2="480.85" y2="384.6" stroke="#999" stroke-width="1.2"/>
<text x="448.27" y="393.9" font-size="6.8" text-anchor="middle">12</text>
<polyline points="418.1,257 418.1,251.3 453.35,251.3 453.35,315" fill="none" stroke="#555" stroke-width="0.85"/>
<line x1="432.82" y1="246.7" x2="432.82" y2="249.1" stroke="#333" stroke-width="0.6"/>
<line x1="431.79" y1="247.3" x2="433.86" y2="248.5" stroke="#333" stroke-width="0.6"/>
<line x1="431.79" y1="248.5" x2="433.86" y2="247.3" stroke="#333" stroke-width="0.6"/>
<line x1="435.72" y1="246.7" x2="435.72" y2="249.1" stroke="#333" stroke-width="0.6"/>
<line x1="434.69" y1="247.3" x2="436.76" y2="248.5" stroke="#333" stroke-width="0.6"/>
<line x1="434.69" y1="248.5" x2="436.76" y2="247.3" stroke="#333" stroke-width="0.6"/>
<line x1="438.62" y1="246.7" x2="438.62" y2="249.1" stroke="#333" stroke-width="0.6"/>
<line x1="437.59" y1="247.3" x2="439.66" y2="248.5" stroke="#333" stroke-width="0.6"/>
<line x1="437.59" y1="248.5" x2="439.66" y2="247.3" stroke="#333" stroke-width="0.6"/>
<polyline points="429.85,240.1 429.85,234.4 465.1,234.4 465.1,315" fill="none" stroke="#555" stroke-width="0.85"/>
<line x1="444.57" y1="229.8" x2="444.57" y2="232.2" stroke="#333" stroke-width="0.6"/>
<line x1="443.54" y1="230.4" x2="445.61" y2="231.6" stroke="#333" stroke-width="0.6"/>
<line x1="443.54" y1="231.6" x2="445.61" y2="230.4" stroke="#333" stroke-width="0.6"/>
<line x1="447.47" y1="229.8" x2="447.47" y2="232.2" stroke="#333" stroke-width="0.6"/>
<line x1="446.44" y1="230.4" x2="448.51" y2="231.6" stroke="#333" stroke-width="0.6"/>
<line x1="446.44" y1="231.6" x2="448.51" y2="230.4" stroke="#333" stroke-width="0.6"/>
<line x1="450.37" y1="229.8" x2="450.37" y2="232.2" stroke="#333" stroke-width="0.6"/>
<line x1="449.34" y1="230.4" x2="451.41" y2="231.6" stroke="#333" stroke-width="0.6"/>
<line x1="449.34" y1="231.6" x2="451.41" y2="230.4" stroke="#333" stroke-width="0.6"/>
<polyline points="441.6,221 441.6,215.6 476.85,215.6 476.85,315" fill="none" stroke="#555" stroke-width="0.85"/>
<line x1="456.32" y1="211" x2="456.32" y2="213.4" stroke="#333" stroke-width="0.6"/>
<line x1="455.29" y1="211.6" x2="457.36" y2="212.8" stroke="#333" stroke-width="0.6"/>
<line x1="455.29" y1="212.8" x2="457.36" y2="211.6" stroke="#333" stroke-width="0.6"/>
<line x1="459.22" y1="211" x2="459.22" y2="213.4" stroke="#333" stroke-width="0.6"/>
<line x1="458.19" y1="211.6" x2="460.26" y2="212.8" stroke="#333" stroke-width="0.6"/>
<line x1="458.19" y1="212.8" x2="460.26" y2="211.6" stroke="#333" stroke-width="0.6"/>
<line x1="462.12" y1="211" x2="462.12" y2="213.4" stroke="#333" stroke-width="0.6"/>
<line x1="461.09" y1="211.6" x2="463.16" y2="212.8" stroke="#333" stroke-width="0.6"/>
<line x1="461.09" y1="212.8" x2="463.16" y2="211.6" stroke="#333" stroke-width="0.6"/>
<text x="481.3" y="393.9" font-size="6.8" textLength="13.7" lengthAdjust="spacingAndGlyphs">hour</text>
<text x="60.8" y="435.8" font-size="7.4" textLength="17.2" lengthAdjust="spacingAndGlyphs">Foxo1</text>
<text x="78.3" y="432.3" font-size="4" textLength="16" lengthAdjust="spacingAndGlyphs">flox/flox</text>
<text x="151.3" y="435.8" font-size="7.4" font-style="italic" textLength="17.4" lengthAdjust="spacingAndGlyphs">Foxo1</text>
<text x="168.9" y="432.3" font-size="4" font-style="italic" textLength="8.6" lengthAdjust="spacingAndGlyphs">LKO</text>
<line x1="41.5" y1="439.8" x2="113.7" y2="439.8" stroke="#777" stroke-width="1.1"/>
<line x1="128.3" y1="439.8" x2="200" y2="439.8" stroke="#777" stroke-width="1.1"/>
<text x="40" y="450" font-size="7" textLength="35.8" lengthAdjust="spacingAndGlyphs">Non-nuclear</text>
<text x="87.7" y="450" font-size="7" textLength="22.1" lengthAdjust="spacingAndGlyphs">Nuclear</text>
<text x="126.3" y="450" font-size="7" textLength="36" lengthAdjust="spacingAndGlyphs">Non-nuclear</text>
<text x="173.8" y="450" font-size="7" textLength="22.4" lengthAdjust="spacingAndGlyphs">Nuclear</text>
<line x1="42.5" y1="454.6" x2="72.7" y2="454.6" stroke="#777" stroke-width="1.1"/>
<line x1="83.5" y1="454.6" x2="114.6" y2="454.6" stroke="#777" stroke-width="1.1"/>
<line x1="129.2" y1="454.6" x2="159.6" y2="454.6" stroke="#777" stroke-width="1.1"/>
<line x1="169.6" y1="454.6" x2="200.4" y2="454.6" stroke="#777" stroke-width="1.1"/>
<text x="30" y="462.3" font-size="7" text-anchor="end" textLength="17" lengthAdjust="spacingAndGlyphs">BMP6</text>
<text x="30" y="472.6" font-size="7" text-anchor="end" textLength="21.5" lengthAdjust="spacingAndGlyphs">Holo-Tf</text>
<line x1="39.6" y1="460.4" x2="42.8" y2="460.4" stroke="#555" stroke-width="0.7"/>
<line x1="39.6" y1="470.4" x2="42.8" y2="470.4" stroke="#555" stroke-width="0.7"/>
<line x1="49.6" y1="460.4" x2="52.8" y2="460.4" stroke="#555" stroke-width="0.7"/>
<line x1="49.6" y1="470.4" x2="52.8" y2="470.4" stroke="#555" stroke-width="0.7"/>
<line x1="51.2" y1="468.8" x2="51.2" y2="472" stroke="#555" stroke-width="0.7"/>
<line x1="59.6" y1="460.4" x2="62.8" y2="460.4" stroke="#555" stroke-width="0.7"/>
<line x1="61.2" y1="458.8" x2="61.2" y2="462" stroke="#555" stroke-width="0.7"/>
<line x1="59.6" y1="470.4" x2="62.8" y2="470.4" stroke="#555" stroke-width="0.7"/>
<line x1="71.1" y1="460.4" x2="74.3" y2="460.4" stroke="#555" stroke-width="0.7"/>
<line x1="72.7" y1="458.8" x2="72.7" y2="462" stroke="#555" stroke-width="0.7"/>
<line x1="71.1" y1="470.4" x2="74.3" y2="470.4" stroke="#555" stroke-width="0.7"/>
<line x1="72.7" y1="468.8" x2="72.7" y2="472" stroke="#555" stroke-width="0.7"/>
<line x1="81.9" y1="460.4" x2="85.1" y2="460.4" stroke="#555" stroke-width="0.7"/>
<line x1="81.9" y1="470.4" x2="85.1" y2="470.4" stroke="#555" stroke-width="0.7"/>
<line x1="91.9" y1="460.4" x2="95.1" y2="460.4" stroke="#555" stroke-width="0.7"/>
<line x1="91.9" y1="470.4" x2="95.1" y2="470.4" stroke="#555" stroke-width="0.7"/>
<line x1="93.5" y1="468.8" x2="93.5" y2="472" stroke="#555" stroke-width="0.7"/>
<line x1="102.4" y1="460.4" x2="105.6" y2="460.4" stroke="#555" stroke-width="0.7"/>
<line x1="104" y1="458.8" x2="104" y2="462" stroke="#555" stroke-width="0.7"/>
<line x1="102.4" y1="470.4" x2="105.6" y2="470.4" stroke="#555" stroke-width="0.7"/>
<line x1="113.6" y1="460.4" x2="116.8" y2="460.4" stroke="#555" stroke-width="0.7"/>
<line x1="115.2" y1="458.8" x2="115.2" y2="462" stroke="#555" stroke-width="0.7"/>
<line x1="113.6" y1="470.4" x2="116.8" y2="470.4" stroke="#555" stroke-width="0.7"/>
<line x1="115.2" y1="468.8" x2="115.2" y2="472" stroke="#555" stroke-width="0.7"/>
<line x1="125.3" y1="460.4" x2="128.5" y2="460.4" stroke="#555" stroke-width="0.7"/>
<line x1="125.3" y1="470.4" x2="128.5" y2="470.4" stroke="#555" stroke-width="0.7"/>
<line x1="135.7" y1="460.4" x2="138.9" y2="460.4" stroke="#555" stroke-width="0.7"/>
<line x1="135.7" y1="470.4" x2="138.9" y2="470.4" stroke="#555" stroke-width="0.7"/>
<line x1="137.3" y1="468.8" x2="137.3" y2="472" stroke="#555" stroke-width="0.7"/>
<line x1="146.5" y1="460.4" x2="149.7" y2="460.4" stroke="#555" stroke-width="0.7"/>
<line x1="148.1" y1="458.8" x2="148.1" y2="462" stroke="#555" stroke-width="0.7"/>
<line x1="146.5" y1="470.4" x2="149.7" y2="470.4" stroke="#555" stroke-width="0.7"/>
<line x1="157.4" y1="460.4" x2="160.6" y2="460.4" stroke="#555" stroke-width="0.7"/>
<line x1="159" y1="458.8" x2="159" y2="462" stroke="#555" stroke-width="0.7"/>
<line x1="157.4" y1="470.4" x2="160.6" y2="470.4" stroke="#555" stroke-width="0.7"/>
<line x1="159" y1="468.8" x2="159" y2="472" stroke="#555" stroke-width="0.7"/>
<line x1="168.4" y1="460.4" x2="171.6" y2="460.4" stroke="#555" stroke-width="0.7"/>
<line x1="168.4" y1="470.4" x2="171.6" y2="470.4" stroke="#555" stroke-width="0.7"/>
<line x1="178.6" y1="460.4" x2="181.8" y2="460.4" stroke="#555" stroke-width="0.7"/>
<line x1="178.6" y1="470.4" x2="181.8" y2="470.4" stroke="#555" stroke-width="0.7"/>
<line x1="180.2" y1="468.8" x2="180.2" y2="472" stroke="#555" stroke-width="0.7"/>
<line x1="189.2" y1="460.4" x2="192.4" y2="460.4" stroke="#555" stroke-width="0.7"/>
<line x1="190.8" y1="458.8" x2="190.8" y2="462" stroke="#555" stroke-width="0.7"/>
<line x1="189.2" y1="470.4" x2="192.4" y2="470.4" stroke="#555" stroke-width="0.7"/>
<line x1="200.3" y1="460.4" x2="203.5" y2="460.4" stroke="#555" stroke-width="0.7"/>
<line x1="201.9" y1="458.8" x2="201.9" y2="462" stroke="#555" stroke-width="0.7"/>
<line x1="200.3" y1="470.4" x2="203.5" y2="470.4" stroke="#555" stroke-width="0.7"/>
<line x1="201.9" y1="468.8" x2="201.9" y2="472" stroke="#555" stroke-width="0.7"/>
<text x="30" y="487.2" font-size="7.6" text-anchor="end" textLength="18.2" lengthAdjust="spacingAndGlyphs">Foxo1</text>
<rect x="33.5" y="477" width="177.7" height="15.2" fill="#e9e9e9" stroke="#888" stroke-width="1"/>
<rect x="37.35" y="482.7" width="2.8" height="2.6" rx="1.3" fill="#000" fill-opacity="0.3" filter="url(#b06)"/>
<rect x="42.65" y="482.7" width="3" height="2.6" rx="1.3" fill="#000" fill-opacity="0.3" filter="url(#b06)"/>
<rect x="48.35" y="483" width="6.3" height="2.4" rx="1.2" fill="#000" fill-opacity="0.1" filter="url(#b06)"/>
<rect x="58.85" y="483" width="5.8" height="2.4" rx="1.2" fill="#000" fill-opacity="0.07" filter="url(#b06)"/>
<rect x="68.85" y="483" width="6.3" height="2.4" rx="1.2" fill="#000" fill-opacity="0.07" filter="url(#b06)"/>
<rect x="80.15" y="483" width="3" height="2.8" rx="1.4" fill="#000" fill-opacity="0.45" filter="url(#b06)"/>
<rect x="83.35" y="483" width="2.8" height="2.8" rx="1.4" fill="#000" fill-opacity="0.45" filter="url(#b06)"/>
<rect x="89.25" y="482.8" width="3.9" height="3.2" rx="1.6" fill="#000" fill-opacity="0.9" filter="url(#b06)"/>
<rect x="93.05" y="482.8" width="3.5" height="3.2" rx="1.6" fill="#000" fill-opacity="0.85" filter="url(#b06)"/>
<rect x="99.25" y="482.8" width="3.9" height="3.2" rx="1.6" fill="#000" fill-opacity="0.95" filter="url(#b06)"/>
<rect x="103.05" y="482.8" width="3.7" height="3.2" rx="1.6" fill="#000" fill-opacity="0.85" filter="url(#b06)"/>
<rect x="110.05" y="481.9" width="8.4" height="4.6" rx="2.3" fill="#000" fill-opacity="1" filter="url(#b06)"/>
<text x="30" y="509.2" font-size="7.6" text-anchor="end" textLength="20.1" lengthAdjust="spacingAndGlyphs">Smad1</text>
<rect x="33.5" y="498.9" width="177.7" height="14.9" fill="#f4f4f4" stroke="#888" stroke-width="1"/>
<rect x="36.75" y="504.75" width="8.9" height="5.29" rx="2.64" fill="#000" fill-opacity="1" filter="url(#b06)"/>
<rect x="47.25" y="505.33" width="8.5" height="4.14" rx="2.07" fill="#000" fill-opacity="0.95" filter="url(#b06)"/>
<rect x="59.45" y="506.11" width="5.8" height="2.99" rx="1.49" fill="#000" fill-opacity="0.35" filter="url(#b06)"/>
<rect x="69.15" y="505.88" width="5.8" height="3.45" rx="1.72" fill="#000" fill-opacity="0.95" filter="url(#b06)"/>
<rect x="78.25" y="504.98" width="8.9" height="4.83" rx="2.42" fill="#000" fill-opacity="1" filter="url(#b06)"/>
<rect x="88.65" y="504.43" width="9.5" height="5.75" rx="2.88" fill="#000" fill-opacity="1" filter="url(#b06)"/>
<rect x="98.85" y="504.09" width="10.2" height="6.21" rx="3" fill="#000" fill-opacity="1" filter="url(#b06)"/>
<rect x="111.15" y="504.66" width="10.3" height="5.29" rx="2.64" fill="#000" fill-opacity="1" filter="url(#b06)"/>
<rect x="122.95" y="504.88" width="7.9" height="4.83" rx="2.42" fill="#000" fill-opacity="1" filter="url(#b06)"/>
<rect x="132.35" y="505.44" width="7.8" height="3.91" rx="1.95" fill="#000" fill-opacity="0.9" filter="url(#b06)"/>
<rect x="143.15" y="505.9" width="5.7" height="2.99" rx="1.49" fill="#000" fill-opacity="0.4" filter="url(#b06)"/>
<rect x="153.05" y="505.62" width="5.8" height="2.76" rx="1.38" fill="#000" fill-opacity="0.2" filter="url(#b06)"/>
<rect x="165.25" y="506.02" width="6.8" height="2.76" rx="1.38" fill="#000" fill-opacity="0.25" filter="url(#b06)"/>
<rect x="169.05" y="506.45" width="2.1" height="2.3" rx="1.15" fill="#000" fill-opacity="0.7" filter="url(#b06)"/>
<rect x="174.75" y="505.23" width="7.6" height="4.14" rx="2.07" fill="#000" fill-opacity="0.95" filter="url(#b06)"/>
<rect x="185.05" y="504.81" width="7.2" height="4.37" rx="2.18" fill="#000" fill-opacity="1" filter="url(#b06)"/>
<text x="30" y="529.9" font-size="7.6" text-anchor="end" textLength="20.3" lengthAdjust="spacingAndGlyphs">Smad5</text>
<rect x="33.5" y="519.7" width="177.7" height="15.3" fill="#f3f3f3" stroke="#888" stroke-width="1"/>
<rect x="38.85" y="526.19" width="8.3" height="4.83" rx="2.42" fill="#000" fill-opacity="1" filter="url(#b06)"/>
<rect x="48.65" y="526.32" width="7.8" height="4.37" rx="2.18" fill="#000" fill-opacity="0.95" filter="url(#b06)"/>
<rect x="60.45" y="527.22" width="5.7" height="2.76" rx="1.38" fill="#000" fill-opacity="0.45" filter="url(#b06)"/>
<rect x="69.85" y="526.66" width="6.5" height="3.68" rx="1.84" fill="#000" fill-opacity="0.9" filter="url(#b06)"/>
<rect x="79.05" y="526.1" width="9.1" height="4.6" rx="2.3" fill="#000" fill-opacity="1" filter="url(#b06)"/>
<rect x="90.05" y="526.12" width="8.1" height="4.37" rx="2.18" fill="#000" fill-opacity="0.95" filter="url(#b06)"/>
<rect x="99.85" y="525.56" width="9.6" height="5.29" rx="2.64" fill="#000" fill-opacity="1" filter="url(#b06)"/>
<rect x="110.85" y="526" width="9.5" height="4.6" rx="2.3" fill="#000" fill-opacity="0.95" filter="url(#b06)"/>
<rect x="122.95" y="525.72" width="7.2" height="4.37" rx="2.18" fill="#000" fill-opacity="1" filter="url(#b06)"/>
<rect x="132.35" y="526.17" width="8.4" height="3.45" rx="1.72" fill="#000" fill-opacity="0.75" filter="url(#b06)"/>
<rect x="144.05" y="526.63" width="4.8" height="2.53" rx="1.26" fill="#000" fill-opacity="0.15" filter="url(#b06)"/>
<rect x="154.05" y="526.52" width="6.6" height="2.76" rx="1.38" fill="#000" fill-opacity="0.25" filter="url(#b06)"/>
<rect x="164.45" y="526.52" width="6.5" height="2.76" rx="1.38" fill="#000" fill-opacity="0.25" filter="url(#b06)"/>
<rect x="175.35" y="526.52" width="6.1" height="2.76" rx="1.38" fill="#000" fill-opacity="0.35" filter="url(#b06)"/>
<rect x="178.85" y="526.85" width="2.3" height="2.3" rx="1.15" fill="#000" fill-opacity="0.6" filter="url(#b06)"/>
<rect x="185.05" y="524.84" width="7.6" height="3.91" rx="1.95" fill="#000" fill-opacity="0.9" filter="url(#b06)"/>
<rect x="195.55" y="524.56" width="9" height="3.68" rx="1.84" fill="#000" fill-opacity="0.7" filter="url(#b06)"/>
<text x="30" y="550.5" font-size="7.6" text-anchor="end" textLength="20.5" lengthAdjust="spacingAndGlyphs">Smad4</text>
<rect x="33.5" y="541.6" width="177.7" height="14.6" fill="#f1f1f1" stroke="#888" stroke-width="1"/>
<rect x="38.65" y="547.4" width="9.4" height="5.6" rx="2.8" fill="#000" fill-opacity="1" filter="url(#b06)"/>
<rect x="49.05" y="547.4" width="9.4" height="5.6" rx="2.8" fill="#000" fill-opacity="1" filter="url(#b06)"/>
<rect x="59.95" y="548.28" width="7.6" height="4.03" rx="2.02" fill="#000" fill-opacity="0.95" filter="url(#b06)"/>
<rect x="69.65" y="548.06" width="8.4" height="4.48" rx="2.24" fill="#000" fill-opacity="0.95" filter="url(#b06)"/>
<rect x="80.65" y="548.17" width="7.6" height="4.26" rx="2.13" fill="#000" fill-opacity="0.95" filter="url(#b06)"/>
<rect x="90.15" y="547.97" width="7.6" height="4.26" rx="2.13" fill="#000" fill-opacity="0.92" filter="url(#b06)"/>
<rect x="101.05" y="547.98" width="7.7" height="4.03" rx="2.02" fill="#000" fill-opacity="0.95" filter="url(#b06)"/>
<rect x="111.65" y="547.2" width="9.5" height="5.6" rx="2.8" fill="#000" fill-opacity="1" filter="url(#b06)"/>
<rect x="123.25" y="547.2" width="8.3" height="5.6" rx="2.8" fill="#000" fill-opacity="1" filter="url(#b06)"/>
<rect x="132.55" y="547.31" width="8.3" height="5.38" rx="2.69" fill="#000" fill-opacity="1" filter="url(#b06)"/>
<rect x="142.45" y="547.98" width="7.2" height="4.03" rx="2.02" fill="#000" fill-opacity="0.95" filter="url(#b06)"/>
<rect x="152.15" y="547.98" width="7.4" height="4.03" rx="2.02" fill="#000" fill-opacity="0.95" filter="url(#b06)"/>
<rect x="161.45" y="548.54" width="7.8" height="2.91" rx="1.46" fill="#000" fill-opacity="0.3" filter="url(#b06)"/>
<rect x="172.65" y="548.43" width="7.8" height="3.14" rx="1.57" fill="#000" fill-opacity="0.45" filter="url(#b06)"/>
<rect x="182.95" y="547.47" width="9.1" height="4.26" rx="2.13" fill="#000" fill-opacity="0.95" filter="url(#b06)"/>
<text x="30" y="572.2" font-size="7.6" text-anchor="end" textLength="20.3" lengthAdjust="spacingAndGlyphs">Gapdh</text>
<rect x="33.5" y="562.4" width="177.7" height="14.6" fill="#f5f5f5" stroke="#888" stroke-width="1"/>
<rect x="38.7" y="569.15" width="7.8" height="3.9" rx="1.95" fill="#000" fill-opacity="1" filter="url(#b06)"/>
<rect x="48.8" y="569.15" width="8.1" height="3.9" rx="1.95" fill="#000" fill-opacity="1" filter="url(#b06)"/>
<rect x="58.8" y="569.15" width="8.1" height="3.9" rx="1.95" fill="#000" fill-opacity="1" filter="url(#b06)"/>
<rect x="69.4" y="569.15" width="8.1" height="3.9" rx="1.95" fill="#000" fill-opacity="1" filter="url(#b06)"/>
<rect x="123.6" y="568.72" width="6.7" height="3.77" rx="1.89" fill="#000" fill-opacity="1" filter="url(#b06)"/>
<rect x="132.9" y="568.72" width="7.1" height="3.77" rx="1.89" fill="#000" fill-opacity="1" filter="url(#b06)"/>
<rect x="142.2" y="568.72" width="7.7" height="3.77" rx="1.89" fill="#000" fill-opacity="1" filter="url(#b06)"/>
<rect x="152.8" y="568.85" width="7.7" height="3.9" rx="1.95" fill="#000" fill-opacity="1" filter="url(#b06)"/>
<text x="30" y="592.2" font-size="7.6" text-anchor="end" textLength="21.7" lengthAdjust="spacingAndGlyphs">Histone</text>
<rect x="33.5" y="583.6" width="177.7" height="14.9" fill="#f3f3f3" stroke="#888" stroke-width="1"/>
<rect x="40.1" y="586.7" width="6.4" height="8.4" rx="3" fill="#000" fill-opacity="0.12" filter="url(#b06)"/>
<rect x="50.4" y="586.7" width="6.4" height="8.4" rx="3" fill="#000" fill-opacity="0.12" filter="url(#b06)"/>
<rect x="60.8" y="586.7" width="6.4" height="8.4" rx="3" fill="#000" fill-opacity="0.12" filter="url(#b06)"/>
<rect x="71.8" y="586.7" width="6.4" height="8.4" rx="3" fill="#000" fill-opacity="0.12" filter="url(#b06)"/>
<rect x="123.8" y="586.7" width="6.4" height="8.4" rx="3" fill="#000" fill-opacity="0.07" filter="url(#b06)"/>
<rect x="134.3" y="586.7" width="6.4" height="8.4" rx="3" fill="#000" fill-opacity="0.07" filter="url(#b06)"/>
<rect x="144.3" y="586.7" width="6.4" height="8.4" rx="3" fill="#000" fill-opacity="0.07" filter="url(#b06)"/>
<rect x="154.3" y="586.7" width="6.4" height="8.4" rx="3" fill="#000" fill-opacity="0.07" filter="url(#b06)"/>
<rect x="82.45" y="589.61" width="8.2" height="5.38" rx="2.69" fill="#000" fill-opacity="1" filter="url(#b06)"/>
<rect x="91.65" y="589.81" width="9" height="5.38" rx="2.69" fill="#000" fill-opacity="1" filter="url(#b06)"/>
<rect x="102.25" y="589.61" width="8.5" height="5.38" rx="2.69" fill="#000" fill-opacity="1" filter="url(#b06)"/>
<rect x="111.65" y="589.41" width="8.7" height="5.38" rx="2.69" fill="#000" fill-opacity="1" filter="url(#b06)"/>
<rect x="165.85" y="588.91" width="8.8" height="5.38" rx="2.69" fill="#000" fill-opacity="1" filter="url(#b06)"/>
<rect x="175.75" y="588.91" width="8.7" height="5.38" rx="2.69" fill="#000" fill-opacity="1" filter="url(#b06)"/>
<rect x="185.45" y="588.81" width="9.2" height="5.38" rx="2.69" fill="#000" fill-opacity="1" filter="url(#b06)"/>
<rect x="195.65" y="588.71" width="9.6" height="5.38" rx="2.69" fill="#000" fill-opacity="1" filter="url(#b06)"/>
<rect x="195.2" y="503.4" width="10.0" height="3.4" rx="1.7" fill="#000" transform="rotate(-14 200.2 505)" filter="url(#b06)"/>
<rect x="194.6" y="547.6" width="9.6" height="3.4" rx="1.7" fill="#000" fill-opacity="0.95" transform="rotate(-14 199.4 549.2)" filter="url(#b06)"/>
<circle cx="270" cy="420.2" r="1.4" fill="#951a52" stroke="#5e0e34" stroke-width="0.3"/>
<text x="274.4" y="422.5" font-size="7.2" font-style="italic" textLength="18.2" lengthAdjust="spacingAndGlyphs">Foxo1</text>
<text x="292.6" y="419" font-size="4.2" font-style="italic" textLength="15.5" lengthAdjust="spacingAndGlyphs">flox/flox</text>
<circle cx="316.5" cy="420.2" r="1.4" fill="#b59a6a" stroke="#7a6a40" stroke-width="0.3"/>
<text x="320.2" y="422.5" font-size="7.2" font-style="italic" textLength="17.7" lengthAdjust="spacingAndGlyphs">Foxo1</text>
<text x="338" y="419" font-size="4.2" font-style="italic" textLength="8.8" lengthAdjust="spacingAndGlyphs">LKO</text>
<rect x="257.3" y="481.07" width="6.6" height="9.73" fill="#b6b8c0"/>
<line x1="260.6" y1="481.07" x2="260.6" y2="478.07" stroke="#333" stroke-width="0.6"/>
<line x1="259" y1="478.07" x2="262.2" y2="478.07" stroke="#333" stroke-width="0.7"/>
<circle cx="258.2" cy="481.68" r="1.5" fill="#951a52" stroke="#5e0e34" stroke-width="0.3"/>
<circle cx="260.8" cy="480.18" r="1.5" fill="#951a52" stroke="#5e0e34" stroke-width="0.3"/>
<circle cx="263" cy="482.68" r="1.5" fill="#951a52" stroke="#5e0e34" stroke-width="0.3"/>
<circle cx="267.3" cy="490.8" r="1.2" fill="#c9a860" stroke="#7a6a30" stroke-width="0.3"/>
<circle cx="270.6" cy="490.8" r="1.2" fill="#c9a860" stroke="#7a6a30" stroke-width="0.3"/>
<circle cx="273.9" cy="490.8" r="1.2" fill="#c9a860" stroke="#7a6a30" stroke-width="0.3"/>
<line x1="265.6" y1="490.8" x2="265.6" y2="493.2" stroke="#222" stroke-width="0.8"/>
<rect x="285.4" y="470.57" width="6.6" height="20.23" fill="#b6b8c0"/>
<line x1="288.7" y1="470.57" x2="288.7" y2="467.57" stroke="#333" stroke-width="0.6"/>
<line x1="287.1" y1="467.57" x2="290.3" y2="467.57" stroke="#333" stroke-width="0.7"/>
<circle cx="286.3" cy="471.17" r="1.5" fill="#951a52" stroke="#5e0e34" stroke-width="0.3"/>
<circle cx="288.9" cy="469.67" r="1.5" fill="#951a52" stroke="#5e0e34" stroke-width="0.3"/>
<circle cx="291.1" cy="472.17" r="1.5" fill="#951a52" stroke="#5e0e34" stroke-width="0.3"/>
<circle cx="295.4" cy="490.8" r="1.2" fill="#c9a860" stroke="#7a6a30" stroke-width="0.3"/>
<circle cx="298.7" cy="490.8" r="1.2" fill="#c9a860" stroke="#7a6a30" stroke-width="0.3"/>
<circle cx="302" cy="490.8" r="1.2" fill="#c9a860" stroke="#7a6a30" stroke-width="0.3"/>
<line x1="293.7" y1="490.8" x2="293.7" y2="493.2" stroke="#222" stroke-width="0.8"/>
<rect x="313" y="469.41" width="6.6" height="21.39" fill="#b6b8c0"/>
<line x1="316.3" y1="469.41" x2="316.3" y2="466.41" stroke="#333" stroke-width="0.6"/>
<line x1="314.7" y1="466.41" x2="317.9" y2="466.41" stroke="#333" stroke-width="0.7"/>
<circle cx="313.9" cy="470.01" r="1.5" fill="#951a52" stroke="#5e0e34" stroke-width="0.3"/>
<circle cx="316.5" cy="468.51" r="1.5" fill="#951a52" stroke="#5e0e34" stroke-width="0.3"/>
<circle cx="318.7" cy="471.01" r="1.5" fill="#951a52" stroke="#5e0e34" stroke-width="0.3"/>
<circle cx="323" cy="490.8" r="1.2" fill="#c9a860" stroke="#7a6a30" stroke-width="0.3"/>
<circle cx="326.3" cy="490.8" r="1.2" fill="#c9a860" stroke="#7a6a30" stroke-width="0.3"/>
<circle cx="329.6" cy="490.8" r="1.2" fill="#c9a860" stroke="#7a6a30" stroke-width="0.3"/>
<line x1="321.3" y1="490.8" x2="321.3" y2="493.2" stroke="#222" stroke-width="0.8"/>
<rect x="340.7" y="456.18" width="6.6" height="34.62" fill="#b6b8c0"/>
<line x1="344" y1="456.18" x2="344" y2="453.18" stroke="#333" stroke-width="0.6"/>
<line x1="342.4" y1="453.18" x2="345.6" y2="453.18" stroke="#333" stroke-width="0.7"/>
<circle cx="341.6" cy="456.78" r="1.5" fill="#951a52" stroke="#5e0e34" stroke-width="0.3"/>
<circle cx="344.2" cy="455.28" r="1.5" fill="#951a52" stroke="#5e0e34" stroke-width="0.3"/>
<circle cx="346.4" cy="457.78" r="1.5" fill="#951a52" stroke="#5e0e34" stroke-width="0.3"/>
<circle cx="350.7" cy="490.8" r="1.2" fill="#c9a860" stroke="#7a6a30" stroke-width="0.3"/>
<circle cx="354" cy="490.8" r="1.2" fill="#c9a860" stroke="#7a6a30" stroke-width="0.3"/>
<circle cx="357.3" cy="490.8" r="1.2" fill="#c9a860" stroke="#7a6a30" stroke-width="0.3"/>
<line x1="349" y1="490.8" x2="349" y2="493.2" stroke="#222" stroke-width="0.8"/>
<line x1="253.6" y1="428" x2="253.6" y2="491.2" stroke="#222" stroke-width="1"/>
<line x1="253.1" y1="490.8" x2="362.3" y2="490.8" stroke="#222" stroke-width="1"/>
<line x1="251" y1="490.8" x2="253.6" y2="490.8" stroke="#222" stroke-width="0.8"/>
<text x="249" y="493.3" font-size="7.4" text-anchor="end" textLength="10" lengthAdjust="spacingAndGlyphs">0.0</text>
<line x1="251" y1="471.35" x2="253.6" y2="471.35" stroke="#222" stroke-width="0.8"/>
<text x="249" y="473.85" font-size="7.4" text-anchor="end" textLength="10" lengthAdjust="spacingAndGlyphs">0.5</text>
<line x1="251" y1="451.9" x2="253.6" y2="451.9" stroke="#222" stroke-width="0.8"/>
<text x="249" y="454.4" font-size="7.4" text-anchor="end" textLength="10" lengthAdjust="spacingAndGlyphs">1.0</text>
<text x="222.4" y="461.5" font-size="7.6" text-anchor="middle" textLength="42.4" lengthAdjust="spacingAndGlyphs" transform="rotate(-90 222.4 461.5)">Foxo1 nuclear</text>
<text x="232.1" y="461.5" font-size="7.6" text-anchor="middle" textLength="64.2" lengthAdjust="spacingAndGlyphs" transform="rotate(-90 232.1 461.5)">translocation/histone</text>
<text x="247.2" y="502.9" font-size="7.2" text-anchor="end" textLength="21.4" lengthAdjust="spacingAndGlyphs">Holo-Tf</text>
<text x="247.2" y="513.3" font-size="7.2" text-anchor="end" textLength="16.6" lengthAdjust="spacingAndGlyphs">BMP6</text>
<line x1="264.25" y1="501" x2="266.95" y2="501" stroke="#666" stroke-width="0.7"/>
<line x1="292.35" y1="501" x2="295.05" y2="501" stroke="#666" stroke-width="0.7"/>
<line x1="293.7" y1="499.65" x2="293.7" y2="502.35" stroke="#666" stroke-width="0.7"/>
<line x1="319.95" y1="501" x2="322.65" y2="501" stroke="#666" stroke-width="0.7"/>
<line x1="347.65" y1="501" x2="350.35" y2="501" stroke="#666" stroke-width="0.7"/>
<line x1="349" y1="499.65" x2="349" y2="502.35" stroke="#666" stroke-width="0.7"/>
<line x1="264.25" y1="510.8" x2="266.95" y2="510.8" stroke="#666" stroke-width="0.7"/>
<line x1="292.35" y1="510.8" x2="295.05" y2="510.8" stroke="#666" stroke-width="0.7"/>
<line x1="319.95" y1="510.8" x2="322.65" y2="510.8" stroke="#666" stroke-width="0.7"/>
<line x1="321.3" y1="509.45" x2="321.3" y2="512.15" stroke="#666" stroke-width="0.7"/>
<line x1="347.65" y1="510.8" x2="350.35" y2="510.8" stroke="#666" stroke-width="0.7"/>
<line x1="349" y1="509.45" x2="349" y2="512.15" stroke="#666" stroke-width="0.7"/>
<polyline points="260.4,474.6 260.4,469.3 271.4,469.3 271.4,474.6" fill="none" stroke="#555" stroke-width="0.85"/>
<line x1="263" y1="464.7" x2="263" y2="467.1" stroke="#333" stroke-width="0.6"/>
<line x1="261.96" y1="465.3" x2="264.04" y2="466.5" stroke="#333" stroke-width="0.6"/>
<line x1="261.96" y1="466.5" x2="264.04" y2="465.3" stroke="#333" stroke-width="0.6"/>
<line x1="265.9" y1="464.7" x2="265.9" y2="467.1" stroke="#333" stroke-width="0.6"/>
<line x1="264.86" y1="465.3" x2="266.94" y2="466.5" stroke="#333" stroke-width="0.6"/>
<line x1="264.86" y1="466.5" x2="266.94" y2="465.3" stroke="#333" stroke-width="0.6"/>
<line x1="268.8" y1="464.7" x2="268.8" y2="467.1" stroke="#333" stroke-width="0.6"/>
<line x1="267.76" y1="465.3" x2="269.84" y2="466.5" stroke="#333" stroke-width="0.6"/>
<line x1="267.76" y1="466.5" x2="269.84" y2="465.3" stroke="#333" stroke-width="0.6"/>
<polyline points="288.5,463.5 288.5,458.2 299.5,458.2 299.5,463.5" fill="none" stroke="#555" stroke-width="0.85"/>
<line x1="291.1" y1="453.6" x2="291.1" y2="456" stroke="#333" stroke-width="0.6"/>
<line x1="290.06" y1="454.2" x2="292.14" y2="455.4" stroke="#333" stroke-width="0.6"/>
<line x1="290.06" y1="455.4" x2="292.14" y2="454.2" stroke="#333" stroke-width="0.6"/>
<line x1="294" y1="453.6" x2="294" y2="456" stroke="#333" stroke-width="0.6"/>
<line x1="292.96" y1="454.2" x2="295.04" y2="455.4" stroke="#333" stroke-width="0.6"/>
<line x1="292.96" y1="455.4" x2="295.04" y2="454.2" stroke="#333" stroke-width="0.6"/>
<line x1="296.9" y1="453.6" x2="296.9" y2="456" stroke="#333" stroke-width="0.6"/>
<line x1="295.86" y1="454.2" x2="297.94" y2="455.4" stroke="#333" stroke-width="0.6"/>
<line x1="295.86" y1="455.4" x2="297.94" y2="454.2" stroke="#333" stroke-width="0.6"/>
<polyline points="316.1,461.3 316.1,456.4 327.1,456.4 327.1,461.3" fill="none" stroke="#555" stroke-width="0.85"/>
<line x1="318.7" y1="451.8" x2="318.7" y2="454.2" stroke="#333" stroke-width="0.6"/>
<line x1="317.66" y1="452.4" x2="319.74" y2="453.6" stroke="#333" stroke-width="0.6"/>
<line x1="317.66" y1="453.6" x2="319.74" y2="452.4" stroke="#333" stroke-width="0.6"/>
<line x1="321.6" y1="451.8" x2="321.6" y2="454.2" stroke="#333" stroke-width="0.6"/>
<line x1="320.56" y1="452.4" x2="322.64" y2="453.6" stroke="#333" stroke-width="0.6"/>
<line x1="320.56" y1="453.6" x2="322.64" y2="452.4" stroke="#333" stroke-width="0.6"/>
<line x1="324.5" y1="451.8" x2="324.5" y2="454.2" stroke="#333" stroke-width="0.6"/>
<line x1="323.46" y1="452.4" x2="325.54" y2="453.6" stroke="#333" stroke-width="0.6"/>
<line x1="323.46" y1="453.6" x2="325.54" y2="452.4" stroke="#333" stroke-width="0.6"/>
<polyline points="343.8,452 343.8,446.5 354.8,446.5 354.8,452" fill="none" stroke="#555" stroke-width="0.85"/>
<line x1="346.4" y1="441.9" x2="346.4" y2="444.3" stroke="#333" stroke-width="0.6"/>
<line x1="345.36" y1="442.5" x2="347.44" y2="443.7" stroke="#333" stroke-width="0.6"/>
<line x1="345.36" y1="443.7" x2="347.44" y2="442.5" stroke="#333" stroke-width="0.6"/>
<line x1="349.3" y1="441.9" x2="349.3" y2="444.3" stroke="#333" stroke-width="0.6"/>
<line x1="348.26" y1="442.5" x2="350.34" y2="443.7" stroke="#333" stroke-width="0.6"/>
<line x1="348.26" y1="443.7" x2="350.34" y2="442.5" stroke="#333" stroke-width="0.6"/>
<line x1="352.2" y1="441.9" x2="352.2" y2="444.3" stroke="#333" stroke-width="0.6"/>
<line x1="351.16" y1="442.5" x2="353.24" y2="443.7" stroke="#333" stroke-width="0.6"/>
<line x1="351.16" y1="443.7" x2="353.24" y2="442.5" stroke="#333" stroke-width="0.6"/>
<rect x="407.2" y="467.2" width="6.6" height="22.4" fill="#b6b8c0"/>
<rect x="417.2" y="482.13" width="6.6" height="7.47" fill="#b6b8c0"/>
<line x1="410.5" y1="467.2" x2="410.5" y2="464.2" stroke="#333" stroke-width="0.6"/>
<line x1="408.9" y1="464.2" x2="412.1" y2="464.2" stroke="#333" stroke-width="0.7"/>
<circle cx="408.1" cy="467.8" r="1.5" fill="#951a52" stroke="#5e0e34" stroke-width="0.3"/>
<circle cx="410.7" cy="466.3" r="1.5" fill="#951a52" stroke="#5e0e34" stroke-width="0.3"/>
<circle cx="412.9" cy="468.8" r="1.5" fill="#951a52" stroke="#5e0e34" stroke-width="0.3"/>
<line x1="420.5" y1="482.13" x2="420.5" y2="479.63" stroke="#333" stroke-width="0.6"/>
<line x1="418.9" y1="479.63" x2="422.1" y2="479.63" stroke="#333" stroke-width="0.7"/>
<circle cx="417.3" cy="482.33" r="1.35" fill="#c68a3a" stroke="#5e4014" stroke-width="0.4"/>
<circle cx="420.7" cy="481.53" r="1.35" fill="#c68a3a" stroke="#5e4014" stroke-width="0.4"/>
<circle cx="423.7" cy="482.83" r="1.35" fill="#c68a3a" stroke="#5e4014" stroke-width="0.4"/>
<line x1="415.5" y1="489.6" x2="415.5" y2="492" stroke="#222" stroke-width="0.8"/>
<rect x="434.4" y="464.45" width="6.6" height="25.15" fill="#b6b8c0"/>
<rect x="444.4" y="477.02" width="6.6" height="12.58" fill="#b6b8c0"/>
<line x1="437.7" y1="464.45" x2="437.7" y2="461.45" stroke="#333" stroke-width="0.6"/>
<line x1="436.1" y1="461.45" x2="439.3" y2="461.45" stroke="#333" stroke-width="0.7"/>
<circle cx="435.3" cy="465.05" r="1.5" fill="#951a52" stroke="#5e0e34" stroke-width="0.3"/>
<circle cx="437.9" cy="463.55" r="1.5" fill="#951a52" stroke="#5e0e34" stroke-width="0.3"/>
<circle cx="440.1" cy="466.05" r="1.5" fill="#951a52" stroke="#5e0e34" stroke-width="0.3"/>
<line x1="447.7" y1="477.02" x2="447.7" y2="474.52" stroke="#333" stroke-width="0.6"/>
<line x1="446.1" y1="474.52" x2="449.3" y2="474.52" stroke="#333" stroke-width="0.7"/>
<circle cx="444.5" cy="477.22" r="1.35" fill="#c68a3a" stroke="#5e4014" stroke-width="0.4"/>
<circle cx="447.9" cy="476.42" r="1.35" fill="#c68a3a" stroke="#5e4014" stroke-width="0.4"/>
<circle cx="450.9" cy="477.72" r="1.35" fill="#c68a3a" stroke="#5e4014" stroke-width="0.4"/>
<line x1="442.7" y1="489.6" x2="442.7" y2="492" stroke="#222" stroke-width="0.8"/>
<rect x="461.4" y="460.52" width="6.6" height="29.08" fill="#b6b8c0"/>
<rect x="471.4" y="467.99" width="6.6" height="21.62" fill="#b6b8c0"/>
<line x1="464.7" y1="460.52" x2="464.7" y2="457.52" stroke="#333" stroke-width="0.6"/>
<line x1="463.1" y1="457.52" x2="466.3" y2="457.52" stroke="#333" stroke-width="0.7"/>
<circle cx="462.3" cy="461.12" r="1.5" fill="#951a52" stroke="#5e0e34" stroke-width="0.3"/>
<circle cx="464.9" cy="459.62" r="1.5" fill="#951a52" stroke="#5e0e34" stroke-width="0.3"/>
<circle cx="467.1" cy="462.12" r="1.5" fill="#951a52" stroke="#5e0e34" stroke-width="0.3"/>
<line x1="474.7" y1="467.99" x2="474.7" y2="465.49" stroke="#333" stroke-width="0.6"/>
<line x1="473.1" y1="465.49" x2="476.3" y2="465.49" stroke="#333" stroke-width="0.7"/>
<circle cx="471.5" cy="468.19" r="1.35" fill="#c68a3a" stroke="#5e4014" stroke-width="0.4"/>
<circle cx="474.9" cy="467.38" r="1.35" fill="#c68a3a" stroke="#5e4014" stroke-width="0.4"/>
<circle cx="477.9" cy="468.69" r="1.35" fill="#c68a3a" stroke="#5e4014" stroke-width="0.4"/>
<line x1="469.7" y1="489.6" x2="469.7" y2="492" stroke="#222" stroke-width="0.8"/>
<rect x="488.3" y="449.91" width="6.6" height="39.69" fill="#b6b8c0"/>
<rect x="498.3" y="459.73" width="6.6" height="29.87" fill="#b6b8c0"/>
<line x1="491.6" y1="449.91" x2="491.6" y2="446.91" stroke="#333" stroke-width="0.6"/>
<line x1="490" y1="446.91" x2="493.2" y2="446.91" stroke="#333" stroke-width="0.7"/>
<circle cx="489.2" cy="450.51" r="1.5" fill="#951a52" stroke="#5e0e34" stroke-width="0.3"/>
<circle cx="491.8" cy="449.01" r="1.5" fill="#951a52" stroke="#5e0e34" stroke-width="0.3"/>
<circle cx="494" cy="451.51" r="1.5" fill="#951a52" stroke="#5e0e34" stroke-width="0.3"/>
<line x1="501.6" y1="459.73" x2="501.6" y2="457.23" stroke="#333" stroke-width="0.6"/>
<line x1="500" y1="457.23" x2="503.2" y2="457.23" stroke="#333" stroke-width="0.7"/>
<circle cx="498.4" cy="459.93" r="1.35" fill="#c68a3a" stroke="#5e4014" stroke-width="0.4"/>
<circle cx="501.8" cy="459.13" r="1.35" fill="#c68a3a" stroke="#5e4014" stroke-width="0.4"/>
<circle cx="504.8" cy="460.43" r="1.35" fill="#c68a3a" stroke="#5e4014" stroke-width="0.4"/>
<line x1="496.6" y1="489.6" x2="496.6" y2="492" stroke="#222" stroke-width="0.8"/>
<line x1="403.2" y1="428" x2="403.2" y2="490" stroke="#222" stroke-width="1"/>
<line x1="402.7" y1="489.6" x2="511.7" y2="489.6" stroke="#222" stroke-width="1"/>
<line x1="400.6" y1="489.6" x2="403.2" y2="489.6" stroke="#222" stroke-width="0.8"/>
<text x="397.6" y="492.1" font-size="7.4" text-anchor="end" textLength="10" lengthAdjust="spacingAndGlyphs">0.0</text>
<line x1="400.6" y1="469.95" x2="403.2" y2="469.95" stroke="#222" stroke-width="0.8"/>
<text x="397.6" y="472.45" font-size="7.4" text-anchor="end" textLength="10" lengthAdjust="spacingAndGlyphs">0.5</text>
<line x1="400.6" y1="450.3" x2="403.2" y2="450.3" stroke="#222" stroke-width="0.8"/>
<text x="397.6" y="452.8" font-size="7.4" text-anchor="end" textLength="10" lengthAdjust="spacingAndGlyphs">1.0</text>
<line x1="400.6" y1="430.65" x2="403.2" y2="430.65" stroke="#222" stroke-width="0.8"/>
<text x="397.6" y="433.15" font-size="7.4" text-anchor="end" textLength="10" lengthAdjust="spacingAndGlyphs">1.5</text>
<text x="372.4" y="458.6" font-size="7.6" text-anchor="middle" textLength="46.6" lengthAdjust="spacingAndGlyphs" transform="rotate(-90 372.4 458.6)">Smad4 nuclear</text>
<text x="383.2" y="458.6" font-size="7.6" text-anchor="middle" textLength="66.2" lengthAdjust="spacingAndGlyphs" transform="rotate(-90 383.2 458.6)">translocation/histone</text>
<text x="396.8" y="501.7" font-size="7.2" text-anchor="end" textLength="21.4" lengthAdjust="spacingAndGlyphs">Holo-Tf</text>
<text x="396.8" y="512.1" font-size="7.2" text-anchor="end" textLength="16.6" lengthAdjust="spacingAndGlyphs">BMP6</text>
<line x1="414.15" y1="499.8" x2="416.85" y2="499.8" stroke="#666" stroke-width="0.7"/>
<line x1="441.35" y1="499.8" x2="444.05" y2="499.8" stroke="#666" stroke-width="0.7"/>
<line x1="442.7" y1="498.45" x2="442.7" y2="501.15" stroke="#666" stroke-width="0.7"/>
<line x1="468.35" y1="499.8" x2="471.05" y2="499.8" stroke="#666" stroke-width="0.7"/>
<line x1="495.25" y1="499.8" x2="497.95" y2="499.8" stroke="#666" stroke-width="0.7"/>
<line x1="496.6" y1="498.45" x2="496.6" y2="501.15" stroke="#666" stroke-width="0.7"/>
<line x1="414.15" y1="509.6" x2="416.85" y2="509.6" stroke="#666" stroke-width="0.7"/>
<line x1="441.35" y1="509.6" x2="444.05" y2="509.6" stroke="#666" stroke-width="0.7"/>
<line x1="468.35" y1="509.6" x2="471.05" y2="509.6" stroke="#666" stroke-width="0.7"/>
<line x1="469.7" y1="508.25" x2="469.7" y2="510.95" stroke="#666" stroke-width="0.7"/>
<line x1="495.25" y1="509.6" x2="497.95" y2="509.6" stroke="#666" stroke-width="0.7"/>
<line x1="496.6" y1="508.25" x2="496.6" y2="510.95" stroke="#666" stroke-width="0.7"/>
<polyline points="410.3,459.1 410.3,454.2 421.3,454.2 421.3,459.1" fill="none" stroke="#555" stroke-width="0.85"/>
<line x1="414.35" y1="449.6" x2="414.35" y2="452" stroke="#333" stroke-width="0.6"/>
<line x1="413.31" y1="450.2" x2="415.39" y2="451.4" stroke="#333" stroke-width="0.6"/>
<line x1="413.31" y1="451.4" x2="415.39" y2="450.2" stroke="#333" stroke-width="0.6"/>
<line x1="417.25" y1="449.6" x2="417.25" y2="452" stroke="#333" stroke-width="0.6"/>
<line x1="416.21" y1="450.2" x2="418.29" y2="451.4" stroke="#333" stroke-width="0.6"/>
<line x1="416.21" y1="451.4" x2="418.29" y2="450.2" stroke="#333" stroke-width="0.6"/>
<polyline points="437.5,459.1 437.5,454.2 448.5,454.2 448.5,459.1" fill="none" stroke="#555" stroke-width="0.85"/>
<line x1="441.55" y1="449.6" x2="441.55" y2="452" stroke="#333" stroke-width="0.6"/>
<line x1="440.51" y1="450.2" x2="442.59" y2="451.4" stroke="#333" stroke-width="0.6"/>
<line x1="440.51" y1="451.4" x2="442.59" y2="450.2" stroke="#333" stroke-width="0.6"/>
<line x1="444.45" y1="449.6" x2="444.45" y2="452" stroke="#333" stroke-width="0.6"/>
<line x1="443.41" y1="450.2" x2="445.49" y2="451.4" stroke="#333" stroke-width="0.6"/>
<line x1="443.41" y1="451.4" x2="445.49" y2="450.2" stroke="#333" stroke-width="0.6"/>
<polyline points="464.5,456.4 464.5,450.9 475.5,450.9 475.5,456.4" fill="none" stroke="#555" stroke-width="0.85"/>
<line x1="468.55" y1="446.3" x2="468.55" y2="448.7" stroke="#333" stroke-width="0.6"/>
<line x1="467.51" y1="446.9" x2="469.59" y2="448.1" stroke="#333" stroke-width="0.6"/>
<line x1="467.51" y1="448.1" x2="469.59" y2="446.9" stroke="#333" stroke-width="0.6"/>
<line x1="471.45" y1="446.3" x2="471.45" y2="448.7" stroke="#333" stroke-width="0.6"/>
<line x1="470.41" y1="446.9" x2="472.49" y2="448.1" stroke="#333" stroke-width="0.6"/>
<line x1="470.41" y1="448.1" x2="472.49" y2="446.9" stroke="#333" stroke-width="0.6"/>
<polyline points="491.4,444.3 491.4,438.7 502.4,438.7 502.4,444.3" fill="none" stroke="#555" stroke-width="0.85"/>
<line x1="495.45" y1="434.1" x2="495.45" y2="436.5" stroke="#333" stroke-width="0.6"/>
<line x1="494.41" y1="434.7" x2="496.49" y2="435.9" stroke="#333" stroke-width="0.6"/>
<line x1="494.41" y1="435.9" x2="496.49" y2="434.7" stroke="#333" stroke-width="0.6"/>
<line x1="498.35" y1="434.1" x2="498.35" y2="436.5" stroke="#333" stroke-width="0.6"/>
<line x1="497.31" y1="434.7" x2="499.39" y2="435.9" stroke="#333" stroke-width="0.6"/>
<line x1="497.31" y1="435.9" x2="499.39" y2="434.7" stroke="#333" stroke-width="0.6"/>
<rect x="257.2" y="554.33" width="6.6" height="29.87" fill="#b6b8c0"/>
<rect x="267.2" y="578.7" width="6.6" height="5.5" fill="#b6b8c0"/>
<line x1="260.5" y1="554.33" x2="260.5" y2="551.33" stroke="#333" stroke-width="0.6"/>
<line x1="258.9" y1="551.33" x2="262.1" y2="551.33" stroke="#333" stroke-width="0.7"/>
<circle cx="258.1" cy="554.93" r="1.5" fill="#951a52" stroke="#5e0e34" stroke-width="0.3"/>
<circle cx="260.7" cy="553.43" r="1.5" fill="#951a52" stroke="#5e0e34" stroke-width="0.3"/>
<circle cx="262.9" cy="555.93" r="1.5" fill="#951a52" stroke="#5e0e34" stroke-width="0.3"/>
<line x1="270.5" y1="578.7" x2="270.5" y2="576.2" stroke="#333" stroke-width="0.6"/>
<line x1="268.9" y1="576.2" x2="272.1" y2="576.2" stroke="#333" stroke-width="0.7"/>
<circle cx="267.3" cy="578.9" r="1.35" fill="#c68a3a" stroke="#5e4014" stroke-width="0.4"/>
<circle cx="270.7" cy="578.1" r="1.35" fill="#c68a3a" stroke="#5e4014" stroke-width="0.4"/>
<circle cx="273.7" cy="579.4" r="1.35" fill="#c68a3a" stroke="#5e4014" stroke-width="0.4"/>
<line x1="265.5" y1="584.2" x2="265.5" y2="586.6" stroke="#222" stroke-width="0.8"/>
<rect x="285.5" y="546.47" width="6.6" height="37.73" fill="#b6b8c0"/>
<rect x="295.5" y="560.62" width="6.6" height="23.58" fill="#b6b8c0"/>
<line x1="288.8" y1="546.47" x2="288.8" y2="543.47" stroke="#333" stroke-width="0.6"/>
<line x1="287.2" y1="543.47" x2="290.4" y2="543.47" stroke="#333" stroke-width="0.7"/>
<circle cx="286.4" cy="547.07" r="1.5" fill="#951a52" stroke="#5e0e34" stroke-width="0.3"/>
<circle cx="289" cy="545.57" r="1.5" fill="#951a52" stroke="#5e0e34" stroke-width="0.3"/>
<circle cx="291.2" cy="548.07" r="1.5" fill="#951a52" stroke="#5e0e34" stroke-width="0.3"/>
<line x1="298.8" y1="560.62" x2="298.8" y2="558.12" stroke="#333" stroke-width="0.6"/>
<line x1="297.2" y1="558.12" x2="300.4" y2="558.12" stroke="#333" stroke-width="0.7"/>
<circle cx="295.6" cy="560.82" r="1.35" fill="#c68a3a" stroke="#5e4014" stroke-width="0.4"/>
<circle cx="299" cy="560.02" r="1.35" fill="#c68a3a" stroke="#5e4014" stroke-width="0.4"/>
<circle cx="302" cy="561.32" r="1.35" fill="#c68a3a" stroke="#5e4014" stroke-width="0.4"/>
<line x1="293.8" y1="584.2" x2="293.8" y2="586.6" stroke="#222" stroke-width="0.8"/>
<rect x="313.6" y="544.11" width="6.6" height="40.09" fill="#b6b8c0"/>
<rect x="323.6" y="559.83" width="6.6" height="24.37" fill="#b6b8c0"/>
<line x1="316.9" y1="544.11" x2="316.9" y2="541.11" stroke="#333" stroke-width="0.6"/>
<line x1="315.3" y1="541.11" x2="318.5" y2="541.11" stroke="#333" stroke-width="0.7"/>
<circle cx="314.5" cy="544.71" r="1.5" fill="#951a52" stroke="#5e0e34" stroke-width="0.3"/>
<circle cx="317.1" cy="543.21" r="1.5" fill="#951a52" stroke="#5e0e34" stroke-width="0.3"/>
<circle cx="319.3" cy="545.71" r="1.5" fill="#951a52" stroke="#5e0e34" stroke-width="0.3"/>
<line x1="326.9" y1="559.83" x2="326.9" y2="557.33" stroke="#333" stroke-width="0.6"/>
<line x1="325.3" y1="557.33" x2="328.5" y2="557.33" stroke="#333" stroke-width="0.7"/>
<circle cx="323.7" cy="560.03" r="1.35" fill="#c68a3a" stroke="#5e4014" stroke-width="0.4"/>
<circle cx="327.1" cy="559.23" r="1.35" fill="#c68a3a" stroke="#5e4014" stroke-width="0.4"/>
<circle cx="330.1" cy="560.53" r="1.35" fill="#c68a3a" stroke="#5e4014" stroke-width="0.4"/>
<line x1="321.9" y1="584.2" x2="321.9" y2="586.6" stroke="#222" stroke-width="0.8"/>
<rect x="341.7" y="539.79" width="6.6" height="44.41" fill="#b6b8c0"/>
<rect x="351.7" y="550.8" width="6.6" height="33.4" fill="#b6b8c0"/>
<line x1="345" y1="539.79" x2="345" y2="536.79" stroke="#333" stroke-width="0.6"/>
<line x1="343.4" y1="536.79" x2="346.6" y2="536.79" stroke="#333" stroke-width="0.7"/>
<circle cx="342.6" cy="540.39" r="1.5" fill="#951a52" stroke="#5e0e34" stroke-width="0.3"/>
<circle cx="345.2" cy="538.89" r="1.5" fill="#951a52" stroke="#5e0e34" stroke-width="0.3"/>
<circle cx="347.4" cy="541.39" r="1.5" fill="#951a52" stroke="#5e0e34" stroke-width="0.3"/>
<line x1="355" y1="550.8" x2="355" y2="548.3" stroke="#333" stroke-width="0.6"/>
<line x1="353.4" y1="548.3" x2="356.6" y2="548.3" stroke="#333" stroke-width="0.7"/>
<circle cx="351.8" cy="551" r="1.35" fill="#c68a3a" stroke="#5e4014" stroke-width="0.4"/>
<circle cx="355.2" cy="550.2" r="1.35" fill="#c68a3a" stroke="#5e4014" stroke-width="0.4"/>
<circle cx="358.2" cy="551.5" r="1.35" fill="#c68a3a" stroke="#5e4014" stroke-width="0.4"/>
<line x1="350" y1="584.2" x2="350" y2="586.6" stroke="#222" stroke-width="0.8"/>
<line x1="252.7" y1="522" x2="252.7" y2="584.6" stroke="#222" stroke-width="1"/>
<line x1="252.2" y1="584.2" x2="360.6" y2="584.2" stroke="#222" stroke-width="1"/>
<line x1="250.1" y1="584.2" x2="252.7" y2="584.2" stroke="#222" stroke-width="0.8"/>
<text x="246.7" y="586.7" font-size="7.4" text-anchor="end" textLength="10" lengthAdjust="spacingAndGlyphs">0.0</text>
<line x1="250.1" y1="564.55" x2="252.7" y2="564.55" stroke="#222" stroke-width="0.8"/>
<text x="246.7" y="567.05" font-size="7.4" text-anchor="end" textLength="10" lengthAdjust="spacingAndGlyphs">0.5</text>
<line x1="250.1" y1="544.9" x2="252.7" y2="544.9" stroke="#222" stroke-width="0.8"/>
<text x="246.7" y="547.4" font-size="7.4" text-anchor="end" textLength="10" lengthAdjust="spacingAndGlyphs">1.0</text>
<line x1="250.1" y1="525.25" x2="252.7" y2="525.25" stroke="#222" stroke-width="0.8"/>
<text x="246.7" y="527.75" font-size="7.4" text-anchor="end" textLength="10" lengthAdjust="spacingAndGlyphs">1.5</text>
<text x="222.8" y="552.8" font-size="7.6" text-anchor="middle" textLength="47.4" lengthAdjust="spacingAndGlyphs" transform="rotate(-90 222.8 552.8)">Smad1 nuclear</text>
<text x="232.7" y="552.8" font-size="7.6" text-anchor="middle" textLength="64.4" lengthAdjust="spacingAndGlyphs" transform="rotate(-90 232.7 552.8)">translocation/histone</text>
<text x="246.7" y="596.3" font-size="7.2" text-anchor="end" textLength="21.4" lengthAdjust="spacingAndGlyphs">Holo-Tf</text>
<text x="246.7" y="606.7" font-size="7.2" text-anchor="end" textLength="16.6" lengthAdjust="spacingAndGlyphs">BMP6</text>
<line x1="264.15" y1="594.4" x2="266.85" y2="594.4" stroke="#666" stroke-width="0.7"/>
<line x1="292.45" y1="594.4" x2="295.15" y2="594.4" stroke="#666" stroke-width="0.7"/>
<line x1="293.8" y1="593.05" x2="293.8" y2="595.75" stroke="#666" stroke-width="0.7"/>
<line x1="320.55" y1="594.4" x2="323.25" y2="594.4" stroke="#666" stroke-width="0.7"/>
<line x1="348.65" y1="594.4" x2="351.35" y2="594.4" stroke="#666" stroke-width="0.7"/>
<line x1="350" y1="593.05" x2="350" y2="595.75" stroke="#666" stroke-width="0.7"/>
<line x1="264.15" y1="604.2" x2="266.85" y2="604.2" stroke="#666" stroke-width="0.7"/>
<line x1="292.45" y1="604.2" x2="295.15" y2="604.2" stroke="#666" stroke-width="0.7"/>
<line x1="320.55" y1="604.2" x2="323.25" y2="604.2" stroke="#666" stroke-width="0.7"/>
<line x1="321.9" y1="602.85" x2="321.9" y2="605.55" stroke="#666" stroke-width="0.7"/>
<line x1="348.65" y1="604.2" x2="351.35" y2="604.2" stroke="#666" stroke-width="0.7"/>
<line x1="350" y1="602.85" x2="350" y2="605.55" stroke="#666" stroke-width="0.7"/>
<polyline points="260.3,549.8 260.3,544.3 271.3,544.3 271.3,549.8" fill="none" stroke="#555" stroke-width="0.85"/>
<line x1="264.35" y1="539.7" x2="264.35" y2="542.1" stroke="#333" stroke-width="0.6"/>
<line x1="263.31" y1="540.3" x2="265.39" y2="541.5" stroke="#333" stroke-width="0.6"/>
<line x1="263.31" y1="541.5" x2="265.39" y2="540.3" stroke="#333" stroke-width="0.6"/>
<line x1="267.25" y1="539.7" x2="267.25" y2="542.1" stroke="#333" stroke-width="0.6"/>
<line x1="266.21" y1="540.3" x2="268.29" y2="541.5" stroke="#333" stroke-width="0.6"/>
<line x1="266.21" y1="541.5" x2="268.29" y2="540.3" stroke="#333" stroke-width="0.6"/>
<polyline points="288.6,544 288.6,538.7 299.6,538.7 299.6,544" fill="none" stroke="#555" stroke-width="0.85"/>
<line x1="292.65" y1="534.1" x2="292.65" y2="536.5" stroke="#333" stroke-width="0.6"/>
<line x1="291.61" y1="534.7" x2="293.69" y2="535.9" stroke="#333" stroke-width="0.6"/>
<line x1="291.61" y1="535.9" x2="293.69" y2="534.7" stroke="#333" stroke-width="0.6"/>
<line x1="295.55" y1="534.1" x2="295.55" y2="536.5" stroke="#333" stroke-width="0.6"/>
<line x1="294.51" y1="534.7" x2="296.59" y2="535.9" stroke="#333" stroke-width="0.6"/>
<line x1="294.51" y1="535.9" x2="296.59" y2="534.7" stroke="#333" stroke-width="0.6"/>
<polyline points="316.7,539.8 316.7,534.3 327.7,534.3 327.7,539.8" fill="none" stroke="#555" stroke-width="0.85"/>
<line x1="320.75" y1="529.7" x2="320.75" y2="532.1" stroke="#333" stroke-width="0.6"/>
<line x1="319.71" y1="530.3" x2="321.79" y2="531.5" stroke="#333" stroke-width="0.6"/>
<line x1="319.71" y1="531.5" x2="321.79" y2="530.3" stroke="#333" stroke-width="0.6"/>
<line x1="323.65" y1="529.7" x2="323.65" y2="532.1" stroke="#333" stroke-width="0.6"/>
<line x1="322.61" y1="530.3" x2="324.69" y2="531.5" stroke="#333" stroke-width="0.6"/>
<line x1="322.61" y1="531.5" x2="324.69" y2="530.3" stroke="#333" stroke-width="0.6"/>
<polyline points="344.8,536.5 344.8,531 355.8,531 355.8,536.5" fill="none" stroke="#555" stroke-width="0.85"/>
<line x1="348.85" y1="526.4" x2="348.85" y2="528.8" stroke="#333" stroke-width="0.6"/>
<line x1="347.81" y1="527" x2="349.89" y2="528.2" stroke="#333" stroke-width="0.6"/>
<line x1="347.81" y1="528.2" x2="349.89" y2="527" stroke="#333" stroke-width="0.6"/>
<line x1="351.75" y1="526.4" x2="351.75" y2="528.8" stroke="#333" stroke-width="0.6"/>
<line x1="350.71" y1="527" x2="352.79" y2="528.2" stroke="#333" stroke-width="0.6"/>
<line x1="350.71" y1="528.2" x2="352.79" y2="527" stroke="#333" stroke-width="0.6"/>
<rect x="408.2" y="554.11" width="6.6" height="30.49" fill="#b6b8c0"/>
<rect x="418.2" y="579.85" width="6.6" height="4.75" fill="#b6b8c0"/>
<line x1="411.5" y1="554.11" x2="411.5" y2="551.11" stroke="#333" stroke-width="0.6"/>
<line x1="409.9" y1="551.11" x2="413.1" y2="551.11" stroke="#333" stroke-width="0.7"/>
<circle cx="409.1" cy="554.71" r="1.5" fill="#951a52" stroke="#5e0e34" stroke-width="0.3"/>
<circle cx="411.7" cy="553.21" r="1.5" fill="#951a52" stroke="#5e0e34" stroke-width="0.3"/>
<circle cx="413.9" cy="555.71" r="1.5" fill="#951a52" stroke="#5e0e34" stroke-width="0.3"/>
<line x1="421.5" y1="579.85" x2="421.5" y2="577.35" stroke="#333" stroke-width="0.6"/>
<line x1="419.9" y1="577.35" x2="423.1" y2="577.35" stroke="#333" stroke-width="0.7"/>
<circle cx="418.3" cy="580.05" r="1.35" fill="#c68a3a" stroke="#5e4014" stroke-width="0.4"/>
<circle cx="421.7" cy="579.25" r="1.35" fill="#c68a3a" stroke="#5e4014" stroke-width="0.4"/>
<circle cx="424.7" cy="580.55" r="1.35" fill="#c68a3a" stroke="#5e4014" stroke-width="0.4"/>
<line x1="416.5" y1="584.6" x2="416.5" y2="587" stroke="#222" stroke-width="0.8"/>
<rect x="435.4" y="552.92" width="6.6" height="31.68" fill="#b6b8c0"/>
<rect x="445.4" y="577.47" width="6.6" height="7.13" fill="#b6b8c0"/>
<line x1="438.7" y1="552.92" x2="438.7" y2="549.92" stroke="#333" stroke-width="0.6"/>
<line x1="437.1" y1="549.92" x2="440.3" y2="549.92" stroke="#333" stroke-width="0.7"/>
<circle cx="436.3" cy="553.52" r="1.5" fill="#951a52" stroke="#5e0e34" stroke-width="0.3"/>
<circle cx="438.9" cy="552.02" r="1.5" fill="#951a52" stroke="#5e0e34" stroke-width="0.3"/>
<circle cx="441.1" cy="554.52" r="1.5" fill="#951a52" stroke="#5e0e34" stroke-width="0.3"/>
<line x1="448.7" y1="577.47" x2="448.7" y2="574.97" stroke="#333" stroke-width="0.6"/>
<line x1="447.1" y1="574.97" x2="450.3" y2="574.97" stroke="#333" stroke-width="0.7"/>
<circle cx="445.5" cy="577.67" r="1.35" fill="#c68a3a" stroke="#5e4014" stroke-width="0.4"/>
<circle cx="448.9" cy="576.87" r="1.35" fill="#c68a3a" stroke="#5e4014" stroke-width="0.4"/>
<circle cx="451.9" cy="578.17" r="1.35" fill="#c68a3a" stroke="#5e4014" stroke-width="0.4"/>
<line x1="443.7" y1="584.6" x2="443.7" y2="587" stroke="#222" stroke-width="0.8"/>
<rect x="462.6" y="547.38" width="6.6" height="37.22" fill="#b6b8c0"/>
<rect x="472.6" y="562.03" width="6.6" height="22.57" fill="#b6b8c0"/>
<line x1="465.9" y1="547.38" x2="465.9" y2="544.38" stroke="#333" stroke-width="0.6"/>
<line x1="464.3" y1="544.38" x2="467.5" y2="544.38" stroke="#333" stroke-width="0.7"/>
<circle cx="463.5" cy="547.98" r="1.5" fill="#951a52" stroke="#5e0e34" stroke-width="0.3"/>
<circle cx="466.1" cy="546.48" r="1.5" fill="#951a52" stroke="#5e0e34" stroke-width="0.3"/>
<circle cx="468.3" cy="548.98" r="1.5" fill="#951a52" stroke="#5e0e34" stroke-width="0.3"/>
<line x1="475.9" y1="562.03" x2="475.9" y2="559.53" stroke="#333" stroke-width="0.6"/>
<line x1="474.3" y1="559.53" x2="477.5" y2="559.53" stroke="#333" stroke-width="0.7"/>
<circle cx="472.7" cy="562.23" r="1.35" fill="#c68a3a" stroke="#5e4014" stroke-width="0.4"/>
<circle cx="476.1" cy="561.43" r="1.35" fill="#c68a3a" stroke="#5e4014" stroke-width="0.4"/>
<circle cx="479.1" cy="562.73" r="1.35" fill="#c68a3a" stroke="#5e4014" stroke-width="0.4"/>
<line x1="470.9" y1="584.6" x2="470.9" y2="587" stroke="#222" stroke-width="0.8"/>
<rect x="489.6" y="542.62" width="6.6" height="41.98" fill="#b6b8c0"/>
<rect x="499.6" y="560.44" width="6.6" height="24.16" fill="#b6b8c0"/>
<line x1="492.9" y1="542.62" x2="492.9" y2="539.62" stroke="#333" stroke-width="0.6"/>
<line x1="491.3" y1="539.62" x2="494.5" y2="539.62" stroke="#333" stroke-width="0.7"/>
<circle cx="490.5" cy="543.22" r="1.5" fill="#951a52" stroke="#5e0e34" stroke-width="0.3"/>
<circle cx="493.1" cy="541.72" r="1.5" fill="#951a52" stroke="#5e0e34" stroke-width="0.3"/>
<circle cx="495.3" cy="544.22" r="1.5" fill="#951a52" stroke="#5e0e34" stroke-width="0.3"/>
<line x1="502.9" y1="560.44" x2="502.9" y2="557.94" stroke="#333" stroke-width="0.6"/>
<line x1="501.3" y1="557.94" x2="504.5" y2="557.94" stroke="#333" stroke-width="0.7"/>
<circle cx="499.7" cy="560.64" r="1.35" fill="#c68a3a" stroke="#5e4014" stroke-width="0.4"/>
<circle cx="503.1" cy="559.84" r="1.35" fill="#c68a3a" stroke="#5e4014" stroke-width="0.4"/>
<circle cx="506.1" cy="561.14" r="1.35" fill="#c68a3a" stroke="#5e4014" stroke-width="0.4"/>
<line x1="497.9" y1="584.6" x2="497.9" y2="587" stroke="#222" stroke-width="0.8"/>
<line x1="404.3" y1="522" x2="404.3" y2="585" stroke="#222" stroke-width="1"/>
<line x1="403.8" y1="584.6" x2="513" y2="584.6" stroke="#222" stroke-width="1"/>
<line x1="401.7" y1="584.6" x2="404.3" y2="584.6" stroke="#222" stroke-width="0.8"/>
<text x="398.7" y="587.1" font-size="7.4" text-anchor="end" textLength="10" lengthAdjust="spacingAndGlyphs">0.0</text>
<line x1="401.7" y1="564.8" x2="404.3" y2="564.8" stroke="#222" stroke-width="0.8"/>
<text x="398.7" y="567.3" font-size="7.4" text-anchor="end" textLength="10" lengthAdjust="spacingAndGlyphs">0.5</text>
<line x1="401.7" y1="545" x2="404.3" y2="545" stroke="#222" stroke-width="0.8"/>
<text x="398.7" y="547.5" font-size="7.4" text-anchor="end" textLength="10" lengthAdjust="spacingAndGlyphs">1.0</text>
<line x1="401.7" y1="525.2" x2="404.3" y2="525.2" stroke="#222" stroke-width="0.8"/>
<text x="398.7" y="527.7" font-size="7.4" text-anchor="end" textLength="10" lengthAdjust="spacingAndGlyphs">1.5</text>
<text x="372.5" y="552.8" font-size="7.6" text-anchor="middle" textLength="46.6" lengthAdjust="spacingAndGlyphs" transform="rotate(-90 372.5 552.8)">Smad5 nuclear</text>
<text x="382.9" y="552.8" font-size="7.6" text-anchor="middle" textLength="64.2" lengthAdjust="spacingAndGlyphs" transform="rotate(-90 382.9 552.8)">translocation/histone</text>
<text x="397.3" y="596.7" font-size="7.2" text-anchor="end" textLength="21.4" lengthAdjust="spacingAndGlyphs">Holo-Tf</text>
<text x="397.3" y="607.1" font-size="7.2" text-anchor="end" textLength="16.6" lengthAdjust="spacingAndGlyphs">BMP6</text>
<line x1="415.15" y1="594.8" x2="417.85" y2="594.8" stroke="#666" stroke-width="0.7"/>
<line x1="442.35" y1="594.8" x2="445.05" y2="594.8" stroke="#666" stroke-width="0.7"/>
<line x1="443.7" y1="593.45" x2="443.7" y2="596.15" stroke="#666" stroke-width="0.7"/>
<line x1="469.55" y1="594.8" x2="472.25" y2="594.8" stroke="#666" stroke-width="0.7"/>
<line x1="496.55" y1="594.8" x2="499.25" y2="594.8" stroke="#666" stroke-width="0.7"/>
<line x1="497.9" y1="593.45" x2="497.9" y2="596.15" stroke="#666" stroke-width="0.7"/>
<line x1="415.15" y1="604.6" x2="417.85" y2="604.6" stroke="#666" stroke-width="0.7"/>
<line x1="442.35" y1="604.6" x2="445.05" y2="604.6" stroke="#666" stroke-width="0.7"/>
<line x1="469.55" y1="604.6" x2="472.25" y2="604.6" stroke="#666" stroke-width="0.7"/>
<line x1="470.9" y1="603.25" x2="470.9" y2="605.95" stroke="#666" stroke-width="0.7"/>
<line x1="496.55" y1="604.6" x2="499.25" y2="604.6" stroke="#666" stroke-width="0.7"/>
<line x1="497.9" y1="603.25" x2="497.9" y2="605.95" stroke="#666" stroke-width="0.7"/>
<polyline points="411.1,547.2 411.1,542.1 422.1,542.1 422.1,547.2" fill="none" stroke="#555" stroke-width="0.85"/>
<line x1="413.7" y1="537.5" x2="413.7" y2="539.9" stroke="#333" stroke-width="0.6"/>
<line x1="412.66" y1="538.1" x2="414.74" y2="539.3" stroke="#333" stroke-width="0.6"/>
<line x1="412.66" y1="539.3" x2="414.74" y2="538.1" stroke="#333" stroke-width="0.6"/>
<line x1="416.6" y1="537.5" x2="416.6" y2="539.9" stroke="#333" stroke-width="0.6"/>
<line x1="415.56" y1="538.1" x2="417.64" y2="539.3" stroke="#333" stroke-width="0.6"/>
<line x1="415.56" y1="539.3" x2="417.64" y2="538.1" stroke="#333" stroke-width="0.6"/>
<line x1="419.5" y1="537.5" x2="419.5" y2="539.9" stroke="#333" stroke-width="0.6"/>
<line x1="418.46" y1="538.1" x2="420.54" y2="539.3" stroke="#333" stroke-width="0.6"/>
<line x1="418.46" y1="539.3" x2="420.54" y2="538.1" stroke="#333" stroke-width="0.6"/>
<polyline points="438.3,547.2 438.3,542.1 449.3,542.1 449.3,547.2" fill="none" stroke="#555" stroke-width="0.85"/>
<line x1="440.9" y1="537.5" x2="440.9" y2="539.9" stroke="#333" stroke-width="0.6"/>
<line x1="439.86" y1="538.1" x2="441.94" y2="539.3" stroke="#333" stroke-width="0.6"/>
<line x1="439.86" y1="539.3" x2="441.94" y2="538.1" stroke="#333" stroke-width="0.6"/>
<line x1="443.8" y1="537.5" x2="443.8" y2="539.9" stroke="#333" stroke-width="0.6"/>
<line x1="442.76" y1="538.1" x2="444.84" y2="539.3" stroke="#333" stroke-width="0.6"/>
<line x1="442.76" y1="539.3" x2="444.84" y2="538.1" stroke="#333" stroke-width="0.6"/>
<line x1="446.7" y1="537.5" x2="446.7" y2="539.9" stroke="#333" stroke-width="0.6"/>
<line x1="445.66" y1="538.1" x2="447.74" y2="539.3" stroke="#333" stroke-width="0.6"/>
<line x1="445.66" y1="539.3" x2="447.74" y2="538.1" stroke="#333" stroke-width="0.6"/>
<polyline points="465.5,542 465.5,537 476.5,537 476.5,542" fill="none" stroke="#555" stroke-width="0.85"/>
<line x1="469.55" y1="532.4" x2="469.55" y2="534.8" stroke="#333" stroke-width="0.6"/>
<line x1="468.51" y1="533" x2="470.59" y2="534.2" stroke="#333" stroke-width="0.6"/>
<line x1="468.51" y1="534.2" x2="470.59" y2="533" stroke="#333" stroke-width="0.6"/>
<line x1="472.45" y1="532.4" x2="472.45" y2="534.8" stroke="#333" stroke-width="0.6"/>
<line x1="471.41" y1="533" x2="473.49" y2="534.2" stroke="#333" stroke-width="0.6"/>
<line x1="471.41" y1="534.2" x2="473.49" y2="533" stroke="#333" stroke-width="0.6"/>
<polyline points="492.5,537 492.5,532.1 503.5,532.1 503.5,537" fill="none" stroke="#555" stroke-width="0.85"/>
<line x1="496.55" y1="527.5" x2="496.55" y2="529.9" stroke="#333" stroke-width="0.6"/>
<line x1="495.51" y1="528.1" x2="497.59" y2="529.3" stroke="#333" stroke-width="0.6"/>
<line x1="495.51" y1="529.3" x2="497.59" y2="528.1" stroke="#333" stroke-width="0.6"/>
<line x1="499.45" y1="527.5" x2="499.45" y2="529.9" stroke="#333" stroke-width="0.6"/>
<line x1="498.41" y1="528.1" x2="500.49" y2="529.3" stroke="#333" stroke-width="0.6"/>
<line x1="498.41" y1="529.3" x2="500.49" y2="528.1" stroke="#333" stroke-width="0.6"/></svg></body></html>
